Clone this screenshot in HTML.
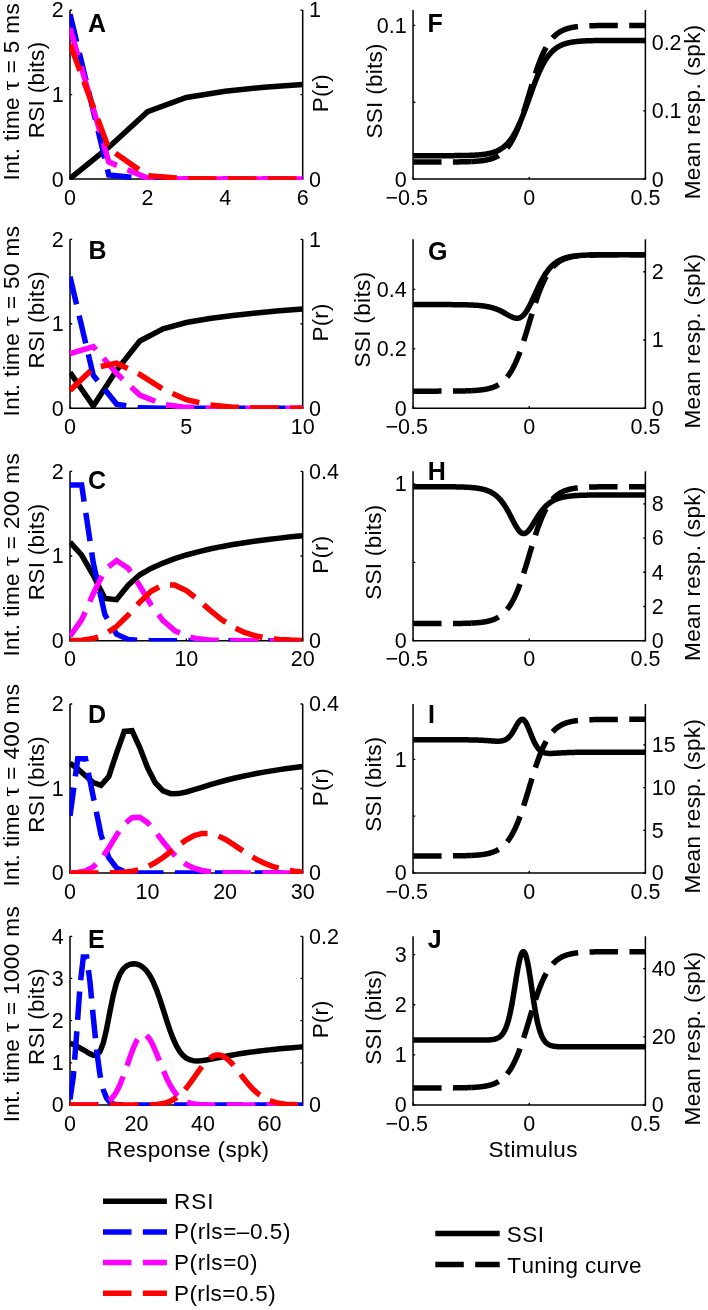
<!DOCTYPE html>
<html><head><meta charset="utf-8"><title>Figure</title>
<style>html,body{margin:0;padding:0;background:#fff;overflow:hidden} svg{display:block;will-change:transform} text{font-family:"Liberation Sans",sans-serif;font-kerning:none}</style>
</head><body>
<svg width="708" height="1310" viewBox="0 0 708 1310">
<rect width="708" height="1310" fill="#fff"/>
<defs><clipPath id="cl0"><rect x="69.40" y="2.05" width="233.90" height="177.95"/></clipPath><clipPath id="cl1"><rect x="69.40" y="231.35" width="233.90" height="177.75"/></clipPath><clipPath id="cl2"><rect x="69.40" y="463.30" width="233.90" height="178.30"/></clipPath><clipPath id="cl3"><rect x="69.40" y="696.00" width="233.90" height="177.90"/></clipPath><clipPath id="cl4"><rect x="69.40" y="928.30" width="233.90" height="177.60"/></clipPath><clipPath id="cr0"><rect x="412.45" y="2.05" width="233.55" height="177.95"/></clipPath><clipPath id="cr1"><rect x="412.45" y="231.35" width="233.55" height="177.75"/></clipPath><clipPath id="cr2"><rect x="412.45" y="463.30" width="233.55" height="178.30"/></clipPath><clipPath id="cr3"><rect x="412.45" y="696.00" width="233.55" height="177.90"/></clipPath><clipPath id="cr4"><rect x="412.45" y="928.30" width="233.55" height="177.60"/></clipPath></defs>
<g fill="none" stroke-linejoin="miter" stroke-miterlimit="10" stroke-linecap="butt">
<path d="M70.0,10.05 L70.0,179.1 L302.7,179.1 L302.7,10.05" stroke="#000" stroke-width="1.5" fill="none"/>
<path d="M70.00,179.1 V176.90 M147.57,179.1 V176.90 M225.13,179.1 V176.90 M302.70,179.1 V176.90 M70.0,179.10 H72.20 M70.0,94.58 H72.20 M70.0,10.05 H72.20 M302.7,179.10 H300.50 M302.7,94.58 H300.50 M302.7,10.05 H300.50" stroke="#000" stroke-width="1.3"/>
<path d="M70.00,178.60 L108.78,147.19 L147.57,111.64 L186.35,97.50 L225.13,91.19 L263.92,87.31 L302.70,84.43" stroke="#000" stroke-width="5.5" clip-path="url(#cl0)"/>
<path d="M70.00,14.22 L108.78,174.98 L147.57,179.05 L186.35,179.10 L225.13,179.10 L263.92,179.10 L302.70,179.10" stroke="#0000ff" stroke-width="5.5" stroke-dasharray="28.5 11.4" clip-path="url(#cl0)"/>
<path d="M70.00,28.13 L108.78,162.02 L147.57,178.13 L186.35,179.06 L225.13,179.10 L263.92,179.10 L302.70,179.10" stroke="#ff00ff" stroke-width="5.5" stroke-dasharray="28.5 11.4" clip-path="url(#cl0)"/>
<path d="M70.00,44.11 L108.78,148.73 L147.57,175.68 L186.35,178.84 L225.13,179.09 L263.92,179.10 L302.70,179.10" stroke="#ff0000" stroke-width="5.5" stroke-dasharray="28.5 11.4" clip-path="url(#cl0)"/>
<path d="M70.0,239.35 L70.0,408.2 L302.7,408.2 L302.7,239.35" stroke="#000" stroke-width="1.5" fill="none"/>
<path d="M70.00,408.2 V406.00 M186.35,408.2 V406.00 M302.70,408.2 V406.00 M70.0,408.20 H72.20 M70.0,323.77 H72.20 M70.0,239.35 H72.20 M302.7,408.20 H300.50 M302.7,323.77 H300.50 M302.7,239.35 H300.50" stroke="#000" stroke-width="1.3"/>
<path d="M70.00,372.29 L93.27,406.03 L116.54,370.27 L139.81,341.02 L163.08,328.73 L186.35,322.55 L209.62,318.50 L232.89,315.41 L256.16,312.90 L279.43,310.77 L302.70,308.92" stroke="#000" stroke-width="5.5" clip-path="url(#cl1)"/>
<path d="M70.00,276.70 L93.27,375.32 L116.54,404.09 L139.81,407.86 L163.08,408.18 L186.35,408.20 L209.62,408.20 L232.89,408.20 L256.16,408.20 L279.43,408.20 L302.70,408.20" stroke="#0000ff" stroke-width="5.5" stroke-dasharray="28.5 11.4" clip-path="url(#cl1)"/>
<path d="M70.00,353.72 L93.27,346.57 L116.54,373.34 L139.81,395.06 L163.08,404.48 L186.35,407.36 L209.62,408.04 L232.89,408.17 L256.16,408.20 L279.43,408.20 L302.70,408.20" stroke="#ff00ff" stroke-width="5.5" stroke-dasharray="28.5 11.4" clip-path="url(#cl1)"/>
<path d="M70.00,390.40 L93.27,368.16 L116.54,363.15 L139.81,374.41 L163.08,389.20 L186.35,399.65 L209.62,404.99 L232.89,407.17 L256.16,407.91 L279.43,408.13 L302.70,408.18" stroke="#ff0000" stroke-width="5.5" stroke-dasharray="28.5 11.4" clip-path="url(#cl1)"/>
<path d="M70.0,471.3 L70.0,640.7 L302.7,640.7 L302.7,471.3" stroke="#000" stroke-width="1.5" fill="none"/>
<path d="M70.00,640.7 V638.50 M186.35,640.7 V638.50 M302.70,640.7 V638.50 M70.0,640.70 H72.20 M70.0,556.00 H72.20 M70.0,471.30 H72.20 M302.7,640.70 H300.50 M302.7,556.00 H300.50 M302.7,471.30 H300.50" stroke="#000" stroke-width="1.3"/>
<path d="M70.00,542.20 L81.64,555.02 L93.27,575.31 L104.91,598.38 L116.54,599.71 L128.18,585.19 L139.81,574.82 L151.44,568.22 L163.08,563.06 L174.71,558.70 L186.35,554.98 L197.98,551.80 L209.62,549.06 L221.25,546.67 L232.89,544.57 L244.53,542.70 L256.16,541.02 L267.79,539.50 L279.43,538.11 L291.06,536.84 L302.70,535.65" stroke="#000" stroke-width="5.5" clip-path="url(#cl2)"/>
<path d="M70.00,484.92 L81.64,484.90 L93.27,562.79 L104.91,614.73 L116.54,634.21 L128.18,639.40 L139.81,640.48 L151.44,640.67 L163.08,640.70 L174.71,640.70 L186.35,640.70 L197.98,640.70 L209.62,640.70 L221.25,640.70 L232.89,640.70 L244.53,640.70 L256.16,640.70 L267.79,640.70 L279.43,640.70 L291.06,640.70 L302.70,640.70" stroke="#0000ff" stroke-width="5.5" stroke-dasharray="28.5 11.4" clip-path="url(#cl2)"/>
<path d="M70.00,636.11 L81.64,619.94 L93.27,593.72 L104.91,569.84 L116.54,560.54 L128.18,568.16 L139.81,585.99 L151.44,605.34 L163.08,620.70 L174.71,630.64 L186.35,636.15 L197.98,638.83 L209.62,639.99 L221.25,640.45 L232.89,640.62 L244.53,640.68 L256.16,640.69 L267.79,640.70 L279.43,640.70 L291.06,640.70 L302.70,640.70" stroke="#ff00ff" stroke-width="5.5" stroke-dasharray="28.5 11.4" clip-path="url(#cl2)"/>
<path d="M70.00,640.65 L81.64,640.23 L93.27,638.58 L104.91,634.35 L116.54,626.41 L128.18,614.98 L139.81,602.12 L151.44,591.10 L163.08,584.90 L174.71,584.90 L186.35,590.48 L197.98,599.61 L209.62,609.88 L221.25,619.37 L232.89,626.99 L244.53,632.47 L256.16,636.07 L267.79,638.25 L279.43,639.47 L291.06,640.12 L302.70,640.44" stroke="#ff0000" stroke-width="5.5" stroke-dasharray="28.5 11.4" clip-path="url(#cl2)"/>
<path d="M70.0,704.0 L70.0,873.0 L302.7,873.0 L302.7,704.0" stroke="#000" stroke-width="1.5" fill="none"/>
<path d="M70.00,873.0 V870.80 M147.57,873.0 V870.80 M225.13,873.0 V870.80 M302.70,873.0 V870.80 M70.0,873.00 H72.20 M70.0,788.50 H72.20 M70.0,704.00 H72.20 M302.7,873.00 H300.50 M302.7,788.50 H300.50 M302.7,704.00 H300.50" stroke="#000" stroke-width="1.3"/>
<path d="M70.00,763.14 L77.76,768.97 L85.51,775.76 L93.27,782.50 L101.03,785.33 L108.78,776.54 L116.54,753.09 L124.30,731.43 L132.05,730.63 L139.81,747.49 L147.57,767.83 L155.32,782.78 L163.08,790.80 L170.84,793.69 L178.59,793.59 L186.35,791.98 L194.11,789.73 L201.86,787.29 L209.62,784.89 L217.38,782.61 L225.13,780.49 L232.89,778.54 L240.65,776.74 L248.40,775.09 L256.16,773.57 L263.92,772.16 L271.67,770.85 L279.43,769.64 L287.19,768.50 L294.94,767.43 L302.70,766.43" stroke="#000" stroke-width="5.5" clip-path="url(#cl3)"/>
<path d="M70.00,815.83 L77.76,758.65 L85.51,758.64 L93.27,796.75 L101.03,834.87 L108.78,857.75 L116.54,867.92 L124.30,871.55 L132.05,872.64 L139.81,872.92 L147.57,872.98 L155.32,873.00 L163.08,873.00 L170.84,873.00 L178.59,873.00 L186.35,873.00 L194.11,873.00 L201.86,873.00 L209.62,873.00 L217.38,873.00 L225.13,873.00 L232.89,873.00 L240.65,873.00 L248.40,873.00 L256.16,873.00 L263.92,873.00 L271.67,873.00 L279.43,873.00 L287.19,873.00 L294.94,873.00 L302.70,873.00" stroke="#0000ff" stroke-width="5.5" stroke-dasharray="28.5 11.4" clip-path="url(#cl3)"/>
<path d="M70.00,872.95 L77.76,872.55 L85.51,870.97 L93.27,866.87 L101.03,859.14 L108.78,847.91 L116.54,835.15 L124.30,824.07 L132.05,817.65 L139.81,817.34 L147.57,822.63 L155.32,831.56 L163.08,841.75 L170.84,851.24 L178.59,858.94 L186.35,864.51 L194.11,868.20 L201.86,870.44 L209.62,871.72 L217.38,872.39 L225.13,872.72 L232.89,872.88 L240.65,872.95 L248.40,872.98 L256.16,872.99 L263.92,873.00 L271.67,873.00 L279.43,873.00 L287.19,873.00 L294.94,873.00 L302.70,873.00" stroke="#ff00ff" stroke-width="5.5" stroke-dasharray="28.5 11.4" clip-path="url(#cl3)"/>
<path d="M70.00,873.00 L77.76,873.00 L85.51,873.00 L93.27,872.99 L101.03,872.97 L108.78,872.90 L116.54,872.70 L124.30,872.22 L132.05,871.24 L139.81,869.48 L147.57,866.67 L155.32,862.64 L163.08,857.46 L170.84,851.48 L178.59,845.33 L186.35,839.80 L194.11,835.65 L201.86,833.45 L209.62,833.46 L217.38,835.54 L225.13,839.28 L232.89,844.10 L240.65,849.36 L248.40,854.50 L256.16,859.12 L263.92,863.01 L271.67,866.08 L279.43,868.39 L287.19,870.04 L294.94,871.16 L302.70,871.90" stroke="#ff0000" stroke-width="5.5" stroke-dasharray="28.5 11.4" clip-path="url(#cl3)"/>
<path d="M70.0,936.3 L70.0,1105.0 L302.7,1105.0 L302.7,936.3" stroke="#000" stroke-width="1.5" fill="none"/>
<path d="M70.00,1105.0 V1102.80 M136.49,1105.0 V1102.80 M202.97,1105.0 V1102.80 M269.46,1105.0 V1102.80 M70.0,1105.00 H72.20 M70.0,1062.83 H72.20 M70.0,1020.65 H72.20 M70.0,978.47 H72.20 M70.0,936.30 H72.20 M302.7,1105.00 H300.50 M302.7,1062.83 H300.50 M302.7,1020.65 H300.50 M302.7,978.47 H300.50 M302.7,936.30 H300.50" stroke="#000" stroke-width="1.3"/>
<path d="M70.00,1043.20 L73.32,1044.57 L76.65,1046.10 L79.97,1047.83 L83.30,1049.74 L86.62,1051.78 L89.95,1053.75 L93.27,1055.19 L96.59,1055.09 L99.92,1051.76 L103.24,1043.27 L106.57,1029.12 L109.89,1011.73 L113.22,995.28 L116.54,982.63 L119.86,974.17 L123.19,968.97 L126.51,965.95 L129.84,964.34 L133.16,963.75 L136.49,964.03 L139.81,965.19 L143.13,967.34 L146.46,970.67 L149.78,975.40 L153.11,981.69 L156.43,989.58 L159.76,998.88 L163.08,1009.13 L166.40,1019.64 L169.73,1029.65 L173.05,1038.51 L176.38,1045.80 L179.70,1051.40 L183.03,1055.43 L186.35,1058.13 L189.67,1059.77 L193.00,1060.62 L196.32,1060.92 L199.65,1060.84 L202.97,1060.50 L206.30,1060.00 L209.62,1059.41 L212.94,1058.77 L216.27,1058.10 L219.59,1057.44 L222.92,1056.78 L226.24,1056.14 L229.57,1055.52 L232.89,1054.93 L236.21,1054.36 L239.54,1053.82 L242.86,1053.30 L246.19,1052.80 L249.51,1052.33 L252.84,1051.88 L256.16,1051.44 L259.48,1051.03 L262.81,1050.63 L266.13,1050.25 L269.46,1049.88 L272.78,1049.53 L276.11,1049.19 L279.43,1048.86 L282.75,1048.55 L286.08,1048.24 L289.40,1047.95 L292.73,1047.66 L296.05,1047.38 L299.38,1047.12 L302.70,1046.86" stroke="#000" stroke-width="5.5" clip-path="url(#cl4)"/>
<path d="M70.00,1099.32 L73.32,1076.59 L76.65,1033.98 L79.97,986.62 L83.30,957.01 L86.62,956.99 L89.95,981.65 L93.27,1016.88 L96.59,1049.92 L99.92,1074.40 L103.24,1089.70 L106.57,1098.04 L109.89,1102.10 L113.22,1103.89 L116.54,1104.60 L119.86,1104.87 L123.19,1104.96 L126.51,1104.99 L129.84,1105.00 L133.16,1105.00 L136.49,1105.00 L139.81,1105.00 L143.13,1105.00 L146.46,1105.00 L149.78,1105.00 L153.11,1105.00 L156.43,1105.00 L159.76,1105.00 L163.08,1105.00 L166.40,1105.00 L169.73,1105.00 L173.05,1105.00 L176.38,1105.00 L179.70,1105.00 L183.03,1105.00 L186.35,1105.00 L189.67,1105.00 L193.00,1105.00 L196.32,1105.00 L199.65,1105.00 L202.97,1105.00 L206.30,1105.00 L209.62,1105.00 L212.94,1105.00 L216.27,1105.00 L219.59,1105.00 L222.92,1105.00 L226.24,1105.00 L229.57,1105.00 L232.89,1105.00 L236.21,1105.00 L239.54,1105.00 L242.86,1105.00 L246.19,1105.00 L249.51,1105.00 L252.84,1105.00 L256.16,1105.00 L259.48,1105.00 L262.81,1105.00 L266.13,1105.00 L269.46,1105.00 L272.78,1105.00 L276.11,1105.00 L279.43,1105.00 L282.75,1105.00 L286.08,1105.00 L289.40,1105.00 L292.73,1105.00 L296.05,1105.00 L299.38,1105.00 L302.70,1105.00" stroke="#0000ff" stroke-width="5.5" stroke-dasharray="28.5 11.4" clip-path="url(#cl4)"/>
<path d="M70.00,1105.00 L73.32,1105.00 L76.65,1105.00 L79.97,1105.00 L83.30,1105.00 L86.62,1104.99 L89.95,1104.98 L93.27,1104.92 L96.59,1104.79 L99.92,1104.46 L103.24,1103.78 L106.57,1102.49 L109.89,1100.27 L113.22,1096.77 L116.54,1091.69 L119.86,1084.93 L123.19,1076.62 L126.51,1067.23 L129.84,1057.53 L133.16,1048.47 L136.49,1041.05 L139.81,1036.10 L143.13,1034.15 L146.46,1035.30 L149.78,1039.30 L153.11,1045.54 L156.43,1053.26 L159.76,1061.64 L163.08,1069.97 L166.40,1077.67 L169.73,1084.39 L173.05,1089.96 L176.38,1094.36 L179.70,1097.71 L183.03,1100.15 L186.35,1101.86 L189.67,1103.03 L193.00,1103.79 L196.32,1104.28 L199.65,1104.58 L202.97,1104.76 L206.30,1104.87 L209.62,1104.93 L212.94,1104.96 L216.27,1104.98 L219.59,1104.99 L222.92,1105.00 L226.24,1105.00 L229.57,1105.00 L232.89,1105.00 L236.21,1105.00 L239.54,1105.00 L242.86,1105.00 L246.19,1105.00 L249.51,1105.00 L252.84,1105.00 L256.16,1105.00 L259.48,1105.00 L262.81,1105.00 L266.13,1105.00 L269.46,1105.00 L272.78,1105.00 L276.11,1105.00 L279.43,1105.00 L282.75,1105.00 L286.08,1105.00 L289.40,1105.00 L292.73,1105.00 L296.05,1105.00 L299.38,1105.00 L302.70,1105.00" stroke="#ff00ff" stroke-width="5.5" stroke-dasharray="28.5 11.4" clip-path="url(#cl4)"/>
<path d="M70.00,1105.00 L73.32,1105.00 L76.65,1105.00 L79.97,1105.00 L83.30,1105.00 L86.62,1105.00 L89.95,1105.00 L93.27,1105.00 L96.59,1105.00 L99.92,1105.00 L103.24,1105.00 L106.57,1105.00 L109.89,1105.00 L113.22,1105.00 L116.54,1105.00 L119.86,1105.00 L123.19,1105.00 L126.51,1105.00 L129.84,1105.00 L133.16,1104.99 L136.49,1104.99 L139.81,1104.98 L143.13,1104.95 L146.46,1104.90 L149.78,1104.81 L153.11,1104.67 L156.43,1104.42 L159.76,1104.04 L163.08,1103.46 L166.40,1102.60 L169.73,1101.41 L173.05,1099.78 L176.38,1097.66 L179.70,1095.00 L183.03,1091.76 L186.35,1087.98 L189.67,1083.72 L193.00,1079.12 L196.32,1074.35 L199.65,1069.64 L202.97,1065.22 L206.30,1061.33 L209.62,1058.22 L212.94,1056.04 L216.27,1054.93 L219.59,1054.93 L222.92,1056.02 L226.24,1058.10 L229.57,1061.03 L232.89,1064.62 L236.21,1068.66 L239.54,1072.94 L242.86,1077.25 L246.19,1081.44 L249.51,1085.37 L252.84,1088.94 L256.16,1092.09 L259.48,1094.81 L262.81,1097.09 L266.13,1098.97 L269.46,1100.48 L272.78,1101.66 L276.11,1102.58 L279.43,1103.27 L282.75,1103.78 L286.08,1104.16 L289.40,1104.43 L292.73,1104.61 L296.05,1104.74 L299.38,1104.83 L302.70,1104.89" stroke="#ff0000" stroke-width="5.5" stroke-dasharray="28.5 11.4" clip-path="url(#cl4)"/>
<path d="M413.05,10.05 L413.05,179.1 L645.4,179.1 L645.4,10.05" stroke="#000" stroke-width="1.5" fill="none"/>
<path d="M413.05,179.1 V176.90 M529.23,179.1 V176.90 M645.40,179.1 V176.90 M413.05,179.10 H415.25 M413.05,102.26 H415.25 M413.05,25.42 H415.25 M645.4,179.10 H643.20 M645.4,110.80 H643.20 M645.4,42.49 H643.20" stroke="#000" stroke-width="1.3"/>
<path d="M413.05,155.70 L413.51,155.70 L413.98,155.70 L414.44,155.70 L414.91,155.70 L415.37,155.70 L415.84,155.70 L416.30,155.70 L416.77,155.70 L417.23,155.70 L417.70,155.70 L418.16,155.70 L418.63,155.70 L419.09,155.70 L419.56,155.70 L420.02,155.70 L420.49,155.70 L420.95,155.70 L421.41,155.70 L421.88,155.69 L422.34,155.69 L422.81,155.69 L423.27,155.69 L423.74,155.69 L424.20,155.69 L424.67,155.69 L425.13,155.69 L425.60,155.69 L426.06,155.69 L426.53,155.69 L426.99,155.69 L427.46,155.69 L427.92,155.69 L428.39,155.69 L428.85,155.69 L429.31,155.69 L429.78,155.69 L430.24,155.69 L430.71,155.69 L431.17,155.69 L431.64,155.69 L432.10,155.69 L432.57,155.69 L433.03,155.69 L433.50,155.69 L433.96,155.69 L434.43,155.69 L434.89,155.69 L435.36,155.69 L435.82,155.69 L436.29,155.69 L436.75,155.68 L437.21,155.68 L437.68,155.68 L438.14,155.68 L438.61,155.68 L439.07,155.68 L439.54,155.68 L440.00,155.68 L440.47,155.68 L440.93,155.68 L441.40,155.68 L441.86,155.68 L442.33,155.67 L442.79,155.67 L443.26,155.67 L443.72,155.67 L444.18,155.67 L444.65,155.67 L445.11,155.67 L445.58,155.67 L446.04,155.66 L446.51,155.66 L446.97,155.66 L447.44,155.66 L447.90,155.66 L448.37,155.66 L448.83,155.65 L449.30,155.65 L449.76,155.65 L450.23,155.65 L450.69,155.65 L451.16,155.64 L451.62,155.64 L452.08,155.64 L452.55,155.63 L453.01,155.63 L453.48,155.63 L453.94,155.63 L454.41,155.62 L454.87,155.62 L455.34,155.61 L455.80,155.61 L456.27,155.61 L456.73,155.60 L457.20,155.60 L457.66,155.59 L458.13,155.59 L458.59,155.58 L459.06,155.58 L459.52,155.57 L459.98,155.57 L460.45,155.56 L460.91,155.55 L461.38,155.55 L461.84,155.54 L462.31,155.53 L462.77,155.53 L463.24,155.52 L463.70,155.51 L464.17,155.50 L464.63,155.49 L465.10,155.48 L465.56,155.47 L466.03,155.46 L466.49,155.45 L466.96,155.44 L467.42,155.43 L467.88,155.41 L468.35,155.40 L468.81,155.39 L469.28,155.37 L469.74,155.36 L470.21,155.34 L470.67,155.33 L471.14,155.31 L471.60,155.29 L472.07,155.27 L472.53,155.25 L473.00,155.23 L473.46,155.21 L473.93,155.19 L474.39,155.16 L474.86,155.14 L475.32,155.11 L475.78,155.09 L476.25,155.06 L476.71,155.03 L477.18,155.00 L477.64,154.97 L478.11,154.93 L478.57,154.90 L479.04,154.86 L479.50,154.82 L479.97,154.78 L480.43,154.74 L480.90,154.69 L481.36,154.65 L481.83,154.60 L482.29,154.55 L482.75,154.49 L483.22,154.44 L483.68,154.38 L484.15,154.32 L484.61,154.26 L485.08,154.19 L485.54,154.12 L486.01,154.05 L486.47,153.97 L486.94,153.90 L487.40,153.81 L487.87,153.73 L488.33,153.64 L488.80,153.54 L489.26,153.44 L489.73,153.34 L490.19,153.23 L490.65,153.12 L491.12,153.01 L491.58,152.88 L492.05,152.76 L492.51,152.62 L492.98,152.48 L493.44,152.34 L493.91,152.19 L494.37,152.03 L494.84,151.86 L495.30,151.69 L495.77,151.51 L496.23,151.33 L496.70,151.13 L497.16,150.93 L497.63,150.71 L498.09,150.49 L498.55,150.26 L499.02,150.02 L499.48,149.77 L499.95,149.51 L500.41,149.24 L500.88,148.96 L501.34,148.66 L501.81,148.35 L502.27,148.04 L502.74,147.70 L503.20,147.36 L503.67,147.00 L504.13,146.63 L504.60,146.24 L505.06,145.84 L505.53,145.42 L505.99,144.99 L506.45,144.54 L506.92,144.07 L507.38,143.58 L507.85,143.08 L508.31,142.56 L508.78,142.02 L509.24,141.47 L509.71,140.89 L510.17,140.29 L510.64,139.67 L511.10,139.04 L511.57,138.38 L512.03,137.70 L512.50,137.00 L512.96,136.27 L513.43,135.53 L513.89,134.76 L514.35,133.97 L514.82,133.15 L515.28,132.32 L515.75,131.46 L516.21,130.58 L516.68,129.67 L517.14,128.74 L517.61,127.79 L518.07,126.82 L518.54,125.82 L519.00,124.80 L519.47,123.76 L519.93,122.70 L520.40,121.62 L520.86,120.52 L521.33,119.40 L521.79,118.26 L522.25,117.10 L522.72,115.92 L523.18,114.73 L523.65,113.52 L524.11,112.29 L524.58,111.05 L525.04,109.80 L525.51,108.54 L525.97,107.27 L526.44,105.98 L526.90,104.69 L527.37,103.40 L527.83,102.09 L528.30,100.79 L528.76,99.48 L529.23,98.17 L529.69,96.85 L530.15,95.54 L530.62,94.24 L531.08,92.93 L531.55,91.63 L532.01,90.34 L532.48,89.06 L532.94,87.78 L533.41,86.52 L533.87,85.27 L534.34,84.03 L534.80,82.80 L535.27,81.59 L535.73,80.39 L536.20,79.21 L536.66,78.05 L537.12,76.90 L537.59,75.78 L538.05,74.67 L538.52,73.59 L538.98,72.52 L539.45,71.48 L539.91,70.46 L540.38,69.46 L540.84,68.48 L541.31,67.52 L541.77,66.59 L542.24,65.68 L542.70,64.80 L543.17,63.93 L543.63,63.09 L544.10,62.28 L544.56,61.48 L545.02,60.71 L545.49,59.96 L545.95,59.23 L546.42,58.53 L546.88,57.84 L547.35,57.18 L547.81,56.54 L548.28,55.92 L548.74,55.32 L549.21,54.74 L549.67,54.18 L550.14,53.63 L550.60,53.11 L551.07,52.61 L551.53,52.12 L552.00,51.65 L552.46,51.19 L552.92,50.76 L553.39,50.34 L553.85,49.93 L554.32,49.54 L554.78,49.17 L555.25,48.81 L555.71,48.46 L556.18,48.12 L556.64,47.80 L557.11,47.49 L557.57,47.20 L558.04,46.91 L558.50,46.64 L558.97,46.38 L559.43,46.12 L559.90,45.88 L560.36,45.65 L560.82,45.43 L561.29,45.21 L561.75,45.01 L562.22,44.81 L562.68,44.62 L563.15,44.44 L563.61,44.27 L564.08,44.10 L564.54,43.94 L565.01,43.79 L565.47,43.64 L565.94,43.50 L566.40,43.37 L566.87,43.24 L567.33,43.12 L567.80,43.00 L568.26,42.89 L568.72,42.78 L569.19,42.68 L569.65,42.58 L570.12,42.48 L570.58,42.39 L571.05,42.30 L571.51,42.22 L571.98,42.14 L572.44,42.07 L572.91,41.99 L573.37,41.92 L573.84,41.86 L574.30,41.79 L574.77,41.73 L575.23,41.67 L575.69,41.62 L576.16,41.56 L576.62,41.51 L577.09,41.46 L577.55,41.42 L578.02,41.37 L578.48,41.33 L578.95,41.29 L579.41,41.25 L579.88,41.21 L580.34,41.18 L580.81,41.14 L581.27,41.11 L581.74,41.08 L582.20,41.05 L582.67,41.02 L583.13,40.99 L583.59,40.97 L584.06,40.94 L584.52,40.92 L584.99,40.90 L585.45,40.87 L585.92,40.85 L586.38,40.83 L586.85,40.81 L587.31,40.80 L587.78,40.78 L588.24,40.76 L588.71,40.75 L589.17,40.73 L589.64,40.72 L590.10,40.70 L590.57,40.69 L591.03,40.68 L591.49,40.66 L591.96,40.65 L592.42,40.64 L592.89,40.63 L593.35,40.62 L593.82,40.61 L594.28,40.60 L594.75,40.59 L595.21,40.59 L595.68,40.58 L596.14,40.57 L596.61,40.56 L597.07,40.56 L597.54,40.55 L598.00,40.54 L598.47,40.54 L598.93,40.53 L599.39,40.52 L599.86,40.52 L600.32,40.51 L600.79,40.51 L601.25,40.50 L601.72,40.50 L602.18,40.50 L602.65,40.49 L603.11,40.49 L603.58,40.48 L604.04,40.48 L604.51,40.48 L604.97,40.47 L605.44,40.47 L605.90,40.47 L606.37,40.46 L606.83,40.46 L607.29,40.46 L607.76,40.46 L608.22,40.45 L608.69,40.45 L609.15,40.45 L609.62,40.45 L610.08,40.45 L610.55,40.44 L611.01,40.44 L611.48,40.44 L611.94,40.44 L612.41,40.44 L612.87,40.44 L613.34,40.43 L613.80,40.43 L614.27,40.43 L614.73,40.43 L615.19,40.43 L615.66,40.43 L616.12,40.43 L616.59,40.43 L617.05,40.43 L617.52,40.42 L617.98,40.42 L618.45,40.42 L618.91,40.42 L619.38,40.42 L619.84,40.42 L620.31,40.42 L620.77,40.42 L621.24,40.42 L621.70,40.42 L622.16,40.42 L622.63,40.42 L623.09,40.42 L623.56,40.42 L624.02,40.41 L624.49,40.41 L624.95,40.41 L625.42,40.41 L625.88,40.41 L626.35,40.41 L626.81,40.41 L627.28,40.41 L627.74,40.41 L628.21,40.41 L628.67,40.41 L629.14,40.41 L629.60,40.41 L630.06,40.41 L630.53,40.41 L630.99,40.41 L631.46,40.41 L631.92,40.41 L632.39,40.41 L632.85,40.41 L633.32,40.41 L633.78,40.41 L634.25,40.41 L634.71,40.41 L635.18,40.41 L635.64,40.41 L636.11,40.41 L636.57,40.41 L637.04,40.41 L637.50,40.41 L637.96,40.41 L638.43,40.41 L638.89,40.41 L639.36,40.41 L639.82,40.41 L640.29,40.41 L640.75,40.41 L641.22,40.41 L641.68,40.41 L642.15,40.41 L642.61,40.41 L643.08,40.41 L643.54,40.41 L644.01,40.41 L644.47,40.41 L644.94,40.41 L645.40,40.41" stroke="#000" stroke-width="5.5" clip-path="url(#cr0)"/>
<path d="M413.05,162.02 L413.51,162.02 L413.98,162.02 L414.44,162.02 L414.91,162.02 L415.37,162.02 L415.84,162.02 L416.30,162.02 L416.77,162.02 L417.23,162.02 L417.70,162.02 L418.16,162.02 L418.63,162.02 L419.09,162.02 L419.56,162.02 L420.02,162.02 L420.49,162.02 L420.95,162.02 L421.41,162.02 L421.88,162.02 L422.34,162.02 L422.81,162.02 L423.27,162.02 L423.74,162.02 L424.20,162.02 L424.67,162.02 L425.13,162.02 L425.60,162.02 L426.06,162.02 L426.53,162.02 L426.99,162.02 L427.46,162.02 L427.92,162.02 L428.39,162.02 L428.85,162.02 L429.31,162.02 L429.78,162.02 L430.24,162.02 L430.71,162.02 L431.17,162.01 L431.64,162.01 L432.10,162.01 L432.57,162.01 L433.03,162.01 L433.50,162.01 L433.96,162.01 L434.43,162.01 L434.89,162.01 L435.36,162.01 L435.82,162.01 L436.29,162.01 L436.75,162.01 L437.21,162.01 L437.68,162.01 L438.14,162.01 L438.61,162.00 L439.07,162.00 L439.54,162.00 L440.00,162.00 L440.47,162.00 L440.93,162.00 L441.40,162.00 L441.86,162.00 L442.33,162.00 L442.79,161.99 L443.26,161.99 L443.72,161.99 L444.18,161.99 L444.65,161.99 L445.11,161.99 L445.58,161.99 L446.04,161.98 L446.51,161.98 L446.97,161.98 L447.44,161.98 L447.90,161.98 L448.37,161.97 L448.83,161.97 L449.30,161.97 L449.76,161.97 L450.23,161.96 L450.69,161.96 L451.16,161.96 L451.62,161.96 L452.08,161.95 L452.55,161.95 L453.01,161.95 L453.48,161.94 L453.94,161.94 L454.41,161.93 L454.87,161.93 L455.34,161.92 L455.80,161.92 L456.27,161.92 L456.73,161.91 L457.20,161.91 L457.66,161.90 L458.13,161.89 L458.59,161.89 L459.06,161.88 L459.52,161.87 L459.98,161.87 L460.45,161.86 L460.91,161.85 L461.38,161.85 L461.84,161.84 L462.31,161.83 L462.77,161.82 L463.24,161.81 L463.70,161.80 L464.17,161.79 L464.63,161.78 L465.10,161.77 L465.56,161.75 L466.03,161.74 L466.49,161.73 L466.96,161.72 L467.42,161.70 L467.88,161.69 L468.35,161.67 L468.81,161.65 L469.28,161.64 L469.74,161.62 L470.21,161.60 L470.67,161.58 L471.14,161.56" stroke="#000" stroke-width="5.5" stroke-dasharray="28.5 11.4" clip-path="url(#cr0)"/>
<path d="M471.14,161.56 L471.60,161.54 L472.07,161.52 L472.53,161.49 L473.00,161.47 L473.46,161.44 L473.93,161.42 L474.39,161.39 L474.86,161.36 L475.32,161.33 L475.78,161.29 L476.25,161.26 L476.71,161.23 L477.18,161.19 L477.64,161.15 L478.11,161.11 L478.57,161.07 L479.04,161.02 L479.50,160.98 L479.97,160.93 L480.43,160.88 L480.90,160.83 L481.36,160.77 L481.83,160.71 L482.29,160.65 L482.75,160.59 L483.22,160.52 L483.68,160.45 L484.15,160.38 L484.61,160.31 L485.08,160.23 L485.54,160.15 L486.01,160.06 L486.47,159.97 L486.94,159.88 L487.40,159.78 L487.87,159.67 L488.33,159.57 L488.80,159.45 L489.26,159.34 L489.73,159.22 L490.19,159.09 L490.65,158.95 L491.12,158.81 L491.58,158.67 L492.05,158.52 L492.51,158.36 L492.98,158.19 L493.44,158.02 L493.91,157.84 L494.37,157.65 L494.84,157.45 L495.30,157.25 L495.77,157.04 L496.23,156.81 L496.70,156.58 L497.16,156.34 L497.63,156.08 L498.09,155.82 L498.55,155.55 L499.02,155.26 L499.48,154.96 L499.95,154.65 L500.41,154.33 L500.88,153.99 L501.34,153.64 L501.81,153.27 L502.27,152.89 L502.74,152.50 L503.20,152.09 L503.67,151.66 L504.13,151.22 L504.60,150.76 L505.06,150.28 L505.53,149.78 L505.99,149.26 L506.45,148.73 L506.92,148.17 L507.38,147.60 L507.85,147.00 L508.31,146.38 L508.78,145.74 L509.24,145.08 L509.71,144.39 L510.17,143.68 L510.64,142.95 L511.10,142.19 L511.57,141.40 L512.03,140.60 L512.50,139.76 L512.96,138.90 L513.43,138.02 L513.89,137.10 L514.35,136.16 L514.82,135.20 L515.28,134.20 L515.75,133.18 L516.21,132.14 L516.68,131.06 L517.14,129.96 L517.61,128.83 L518.07,127.67 L518.54,126.49 L519.00,125.28 L519.47,124.05 L519.93,122.79 L520.40,121.51 L520.86,120.20 L521.33,118.87 L521.79,117.52 L522.25,116.14 L522.72,114.75 L523.18,113.33 L523.65,111.90 L524.11,110.45 L524.58,108.98 L525.04,107.50 L525.51,106.00 L525.97,104.50 L526.44,102.98 L526.90,101.45 L527.37,99.91 L527.83,98.37 L528.30,96.82 L528.76,95.27 L529.23,93.72 L529.69,92.17 L530.15,90.62 L530.62,89.07 L531.08,87.53 L531.55,85.99 L532.01,84.46 L532.48,82.94 L532.94,81.44 L533.41,79.94 L533.87,78.46 L534.34,76.99 L534.80,75.54 L535.27,74.11 L535.73,72.69 L536.20,71.30 L536.66,69.92 L537.12,68.57 L537.59,67.24 L538.05,65.93 L538.52,64.65 L538.98,63.39 L539.45,62.16 L539.91,60.95 L540.38,59.77 L540.84,58.61 L541.31,57.48 L541.77,56.38 L542.24,55.31 L542.70,54.26 L543.17,53.24 L543.63,52.24 L544.10,51.28 L544.56,50.34 L545.02,49.42 L545.49,48.54 L545.95,47.68 L546.42,46.84 L546.88,46.04 L547.35,45.25 L547.81,44.49 L548.28,43.76 L548.74,43.05 L549.21,42.36 L549.67,41.70 L550.14,41.06 L550.60,40.44 L551.07,39.84 L551.53,39.27 L552.00,38.71 L552.46,38.18 L552.92,37.66 L553.39,37.16 L553.85,36.68 L554.32,36.22 L554.78,35.78 L555.25,35.35 L555.71,34.94 L556.18,34.55 L556.64,34.17 L557.11,33.80 L557.57,33.45 L558.04,33.11 L558.50,32.79 L558.97,32.48 L559.43,32.18 L559.90,31.90 L560.36,31.62 L560.82,31.36 L561.29,31.10 L561.75,30.86 L562.22,30.63 L562.68,30.41 L563.15,30.19 L563.61,29.99 L564.08,29.79 L564.54,29.60 L565.01,29.42 L565.47,29.25 L565.94,29.08 L566.40,28.92 L566.87,28.77 L567.33,28.63 L567.80,28.49 L568.26,28.35 L568.72,28.23 L569.19,28.10 L569.65,27.99 L570.12,27.87 L570.58,27.77 L571.05,27.66 L571.51,27.57 L571.98,27.47 L572.44,27.38 L572.91,27.30 L573.37,27.21 L573.84,27.13 L574.30,27.06 L574.77,26.99 L575.23,26.92 L575.69,26.85 L576.16,26.79 L576.62,26.73 L577.09,26.67 L577.55,26.62 L578.02,26.56 L578.48,26.51 L578.95,26.46 L579.41,26.42 L579.88,26.37 L580.34,26.33 L580.81,26.29 L581.27,26.25 L581.74,26.22 L582.20,26.18 L582.67,26.15 L583.13,26.11 L583.59,26.08 L584.06,26.05 L584.52,26.03 L584.99,26.00 L585.45,25.97 L585.92,25.95 L586.38,25.92 L586.85,25.90 L587.31,25.88 L587.78,25.86 L588.24,25.84 L588.71,25.82 L589.17,25.80 L589.64,25.79 L590.10,25.77 L590.57,25.75 L591.03,25.74 L591.49,25.73 L591.96,25.71 L592.42,25.70 L592.89,25.69 L593.35,25.67 L593.82,25.66 L594.28,25.65 L594.75,25.64 L595.21,25.63 L595.68,25.62 L596.14,25.61 L596.61,25.60 L597.07,25.60 L597.54,25.59 L598.00,25.58 L598.47,25.57 L598.93,25.57 L599.39,25.56 L599.86,25.55 L600.32,25.55 L600.79,25.54 L601.25,25.54 L601.72,25.53 L602.18,25.53 L602.65,25.52 L603.11,25.52 L603.58,25.51 L604.04,25.51 L604.51,25.50 L604.97,25.50 L605.44,25.50 L605.90,25.49 L606.37,25.49 L606.83,25.49 L607.29,25.48 L607.76,25.48 L608.22,25.48 L608.69,25.47 L609.15,25.47 L609.62,25.47 L610.08,25.47 L610.55,25.46 L611.01,25.46 L611.48,25.46 L611.94,25.46 L612.41,25.46 L612.87,25.45 L613.34,25.45 L613.80,25.45 L614.27,25.45 L614.73,25.45 L615.19,25.45 L615.66,25.45 L616.12,25.44 L616.59,25.44 L617.05,25.44 L617.52,25.44 L617.98,25.44 L618.45,25.44 L618.91,25.44 L619.38,25.44 L619.84,25.44 L620.31,25.44 L620.77,25.43 L621.24,25.43 L621.70,25.43 L622.16,25.43 L622.63,25.43 L623.09,25.43 L623.56,25.43 L624.02,25.43 L624.49,25.43 L624.95,25.43 L625.42,25.43 L625.88,25.43 L626.35,25.43 L626.81,25.43 L627.28,25.43 L627.74,25.43 L628.21,25.43 L628.67,25.42 L629.14,25.42 L629.60,25.42 L630.06,25.42 L630.53,25.42 L630.99,25.42 L631.46,25.42 L631.92,25.42 L632.39,25.42 L632.85,25.42 L633.32,25.42 L633.78,25.42 L634.25,25.42 L634.71,25.42 L635.18,25.42 L635.64,25.42 L636.11,25.42 L636.57,25.42 L637.04,25.42 L637.50,25.42 L637.96,25.42 L638.43,25.42 L638.89,25.42 L639.36,25.42 L639.82,25.42 L640.29,25.42 L640.75,25.42 L641.22,25.42 L641.68,25.42 L642.15,25.42 L642.61,25.42 L643.08,25.42 L643.54,25.42 L644.01,25.42 L644.47,25.42 L644.94,25.42 L645.40,25.42" stroke="#000" stroke-width="5.5" stroke-dasharray="28.5 11.4" clip-path="url(#cr0)"/>
<path d="M413.05,239.35 L413.05,408.2 L645.4,408.2 L645.4,239.35" stroke="#000" stroke-width="1.5" fill="none"/>
<path d="M413.05,408.2 V406.00 M529.23,408.2 V406.00 M645.40,408.2 V406.00 M413.05,408.20 H415.25 M413.05,348.80 H415.25 M413.05,289.40 H415.25 M645.4,408.20 H643.20 M645.4,339.98 H643.20 M645.4,271.75 H643.20" stroke="#000" stroke-width="1.3"/>
<path d="M413.05,304.56 L413.51,304.56 L413.98,304.56 L414.44,304.56 L414.91,304.56 L415.37,304.56 L415.84,304.56 L416.30,304.56 L416.77,304.56 L417.23,304.56 L417.70,304.56 L418.16,304.56 L418.63,304.56 L419.09,304.56 L419.56,304.56 L420.02,304.56 L420.49,304.56 L420.95,304.56 L421.41,304.56 L421.88,304.56 L422.34,304.56 L422.81,304.56 L423.27,304.56 L423.74,304.56 L424.20,304.56 L424.67,304.56 L425.13,304.56 L425.60,304.56 L426.06,304.56 L426.53,304.56 L426.99,304.56 L427.46,304.56 L427.92,304.56 L428.39,304.56 L428.85,304.56 L429.31,304.56 L429.78,304.56 L430.24,304.56 L430.71,304.56 L431.17,304.57 L431.64,304.57 L432.10,304.57 L432.57,304.57 L433.03,304.57 L433.50,304.57 L433.96,304.57 L434.43,304.57 L434.89,304.57 L435.36,304.57 L435.82,304.57 L436.29,304.57 L436.75,304.57 L437.21,304.57 L437.68,304.57 L438.14,304.57 L438.61,304.57 L439.07,304.58 L439.54,304.58 L440.00,304.58 L440.47,304.58 L440.93,304.58 L441.40,304.58 L441.86,304.58 L442.33,304.58 L442.79,304.58 L443.26,304.59 L443.72,304.59 L444.18,304.59 L444.65,304.59 L445.11,304.59 L445.58,304.59 L446.04,304.59 L446.51,304.60 L446.97,304.60 L447.44,304.60 L447.90,304.60 L448.37,304.60 L448.83,304.61 L449.30,304.61 L449.76,304.61 L450.23,304.61 L450.69,304.62 L451.16,304.62 L451.62,304.62 L452.08,304.63 L452.55,304.63 L453.01,304.63 L453.48,304.64 L453.94,304.64 L454.41,304.64 L454.87,304.65 L455.34,304.65 L455.80,304.66 L456.27,304.66 L456.73,304.66 L457.20,304.67 L457.66,304.68 L458.13,304.68 L458.59,304.69 L459.06,304.69 L459.52,304.70 L459.98,304.71 L460.45,304.71 L460.91,304.72 L461.38,304.73 L461.84,304.73 L462.31,304.74 L462.77,304.75 L463.24,304.76 L463.70,304.77 L464.17,304.78 L464.63,304.79 L465.10,304.80 L465.56,304.81 L466.03,304.82 L466.49,304.84 L466.96,304.85 L467.42,304.86 L467.88,304.88 L468.35,304.89 L468.81,304.91 L469.28,304.92 L469.74,304.94 L470.21,304.96 L470.67,304.98 L471.14,305.00 L471.60,305.02 L472.07,305.04 L472.53,305.06 L473.00,305.08 L473.46,305.11 L473.93,305.13 L474.39,305.16 L474.86,305.19 L475.32,305.21 L475.78,305.24 L476.25,305.28 L476.71,305.31 L477.18,305.34 L477.64,305.38 L478.11,305.41 L478.57,305.45 L479.04,305.49 L479.50,305.54 L479.97,305.58 L480.43,305.63 L480.90,305.67 L481.36,305.73 L481.83,305.78 L482.29,305.83 L482.75,305.89 L483.22,305.95 L483.68,306.01 L484.15,306.07 L484.61,306.14 L485.08,306.21 L485.54,306.28 L486.01,306.36 L486.47,306.44 L486.94,306.52 L487.40,306.61 L487.87,306.70 L488.33,306.79 L488.80,306.89 L489.26,306.99 L489.73,307.09 L490.19,307.20 L490.65,307.31 L491.12,307.43 L491.58,307.55 L492.05,307.67 L492.51,307.80 L492.98,307.94 L493.44,308.08 L493.91,308.22 L494.37,308.37 L494.84,308.53 L495.30,308.69 L495.77,308.85 L496.23,309.02 L496.70,309.20 L497.16,309.38 L497.63,309.57 L498.09,309.76 L498.55,309.96 L499.02,310.16 L499.48,310.37 L499.95,310.58 L500.41,310.80 L500.88,311.02 L501.34,311.25 L501.81,311.49 L502.27,311.73 L502.74,311.97 L503.20,312.22 L503.67,312.47 L504.13,312.72 L504.60,312.98 L505.06,313.24 L505.53,313.51 L505.99,313.77 L506.45,314.04 L506.92,314.30 L507.38,314.57 L507.85,314.83 L508.31,315.09 L508.78,315.35 L509.24,315.61 L509.71,315.86 L510.17,316.11 L510.64,316.35 L511.10,316.58 L511.57,316.80 L512.03,317.01 L512.50,317.21 L512.96,317.40 L513.43,317.57 L513.89,317.72 L514.35,317.86 L514.82,317.98 L515.28,318.08 L515.75,318.16 L516.21,318.21 L516.68,318.24 L517.14,318.24 L517.61,318.22 L518.07,318.16 L518.54,318.08 L519.00,317.96 L519.47,317.81 L519.93,317.63 L520.40,317.41 L520.86,317.16 L521.33,316.87 L521.79,316.55 L522.25,316.18 L522.72,315.78 L523.18,315.34 L523.65,314.87 L524.11,314.35 L524.58,313.80 L525.04,313.21 L525.51,312.59 L525.97,311.93 L526.44,311.24 L526.90,310.51 L527.37,309.75 L527.83,308.96 L528.30,308.15 L528.76,307.30 L529.23,306.43 L529.69,305.53 L530.15,304.62 L530.62,303.68 L531.08,302.72 L531.55,301.75 L532.01,300.77 L532.48,299.77 L532.94,298.76 L533.41,297.75 L533.87,296.73 L534.34,295.71 L534.80,294.68 L535.27,293.65 L535.73,292.63 L536.20,291.61 L536.66,290.59 L537.12,289.58 L537.59,288.58 L538.05,287.59 L538.52,286.61 L538.98,285.64 L539.45,284.69 L539.91,283.75 L540.38,282.83 L540.84,281.92 L541.31,281.02 L541.77,280.15 L542.24,279.29 L542.70,278.46 L543.17,277.64 L543.63,276.84 L544.10,276.06 L544.56,275.30 L545.02,274.56 L545.49,273.83 L545.95,273.13 L546.42,272.45 L546.88,271.79 L547.35,271.15 L547.81,270.53 L548.28,269.92 L548.74,269.34 L549.21,268.77 L549.67,268.23 L550.14,267.70 L550.60,267.19 L551.07,266.69 L551.53,266.22 L552.00,265.76 L552.46,265.31 L552.92,264.88 L553.39,264.47 L553.85,264.08 L554.32,263.69 L554.78,263.32 L555.25,262.97 L555.71,262.63 L556.18,262.30 L556.64,261.98 L557.11,261.68 L557.57,261.39 L558.04,261.11 L558.50,260.84 L558.97,260.58 L559.43,260.33 L559.90,260.09 L560.36,259.87 L560.82,259.65 L561.29,259.44 L561.75,259.23 L562.22,259.04 L562.68,258.85 L563.15,258.68 L563.61,258.50 L564.08,258.34 L564.54,258.18 L565.01,258.03 L565.47,257.89 L565.94,257.75 L566.40,257.62 L566.87,257.49 L567.33,257.37 L567.80,257.26 L568.26,257.14 L568.72,257.04 L569.19,256.94 L569.65,256.84 L570.12,256.74 L570.58,256.66 L571.05,256.57 L571.51,256.49 L571.98,256.41 L572.44,256.33 L572.91,256.26 L573.37,256.19 L573.84,256.13 L574.30,256.07 L574.77,256.01 L575.23,255.95 L575.69,255.89 L576.16,255.84 L576.62,255.79 L577.09,255.74 L577.55,255.70 L578.02,255.65 L578.48,255.61 L578.95,255.57 L579.41,255.53 L579.88,255.50 L580.34,255.46 L580.81,255.43 L581.27,255.39 L581.74,255.36 L582.20,255.33 L582.67,255.31 L583.13,255.28 L583.59,255.25 L584.06,255.23 L584.52,255.21 L584.99,255.18 L585.45,255.16 L585.92,255.14 L586.38,255.12 L586.85,255.10 L587.31,255.08 L587.78,255.07 L588.24,255.05 L588.71,255.04 L589.17,255.02 L589.64,255.01 L590.10,254.99 L590.57,254.98 L591.03,254.97 L591.49,254.96 L591.96,254.94 L592.42,254.93 L592.89,254.92 L593.35,254.91 L593.82,254.90 L594.28,254.89 L594.75,254.89 L595.21,254.88 L595.68,254.87 L596.14,254.86 L596.61,254.85 L597.07,254.85 L597.54,254.84 L598.00,254.83 L598.47,254.83 L598.93,254.82 L599.39,254.82 L599.86,254.81 L600.32,254.81 L600.79,254.80 L601.25,254.80 L601.72,254.79 L602.18,254.79 L602.65,254.79 L603.11,254.78 L603.58,254.78 L604.04,254.77 L604.51,254.77 L604.97,254.77 L605.44,254.76 L605.90,254.76 L606.37,254.76 L606.83,254.76 L607.29,254.75 L607.76,254.75 L608.22,254.75 L608.69,254.75 L609.15,254.74 L609.62,254.74 L610.08,254.74 L610.55,254.74 L611.01,254.74 L611.48,254.74 L611.94,254.73 L612.41,254.73 L612.87,254.73 L613.34,254.73 L613.80,254.73 L614.27,254.73 L614.73,254.73 L615.19,254.72 L615.66,254.72 L616.12,254.72 L616.59,254.72 L617.05,254.72 L617.52,254.72 L617.98,254.72 L618.45,254.72 L618.91,254.72 L619.38,254.72 L619.84,254.71 L620.31,254.71 L620.77,254.71 L621.24,254.71 L621.70,254.71 L622.16,254.71 L622.63,254.71 L623.09,254.71 L623.56,254.71 L624.02,254.71 L624.49,254.71 L624.95,254.71 L625.42,254.71 L625.88,254.71 L626.35,254.71 L626.81,254.71 L627.28,254.71 L627.74,254.71 L628.21,254.71 L628.67,254.71 L629.14,254.71 L629.60,254.70 L630.06,254.70 L630.53,254.70 L630.99,254.70 L631.46,254.70 L631.92,254.70 L632.39,254.70 L632.85,254.70 L633.32,254.70 L633.78,254.70 L634.25,254.70 L634.71,254.70 L635.18,254.70 L635.64,254.70 L636.11,254.70 L636.57,254.70 L637.04,254.70 L637.50,254.70 L637.96,254.70 L638.43,254.70 L638.89,254.70 L639.36,254.70 L639.82,254.70 L640.29,254.70 L640.75,254.70 L641.22,254.70 L641.68,254.70 L642.15,254.70 L642.61,254.70 L643.08,254.70 L643.54,254.70 L644.01,254.70 L644.47,254.70 L644.94,254.70 L645.40,254.70" stroke="#000" stroke-width="5.5" clip-path="url(#cr1)"/>
<path d="M413.05,391.14 L413.51,391.14 L413.98,391.14 L414.44,391.14 L414.91,391.14 L415.37,391.14 L415.84,391.14 L416.30,391.14 L416.77,391.14 L417.23,391.14 L417.70,391.14 L418.16,391.14 L418.63,391.14 L419.09,391.14 L419.56,391.14 L420.02,391.14 L420.49,391.14 L420.95,391.14 L421.41,391.14 L421.88,391.14 L422.34,391.14 L422.81,391.14 L423.27,391.14 L423.74,391.14 L424.20,391.14 L424.67,391.14 L425.13,391.14 L425.60,391.14 L426.06,391.14 L426.53,391.14 L426.99,391.14 L427.46,391.14 L427.92,391.14 L428.39,391.14 L428.85,391.14 L429.31,391.14 L429.78,391.14 L430.24,391.14 L430.71,391.14 L431.17,391.13 L431.64,391.13 L432.10,391.13 L432.57,391.13 L433.03,391.13 L433.50,391.13 L433.96,391.13 L434.43,391.13 L434.89,391.13 L435.36,391.13 L435.82,391.13 L436.29,391.13 L436.75,391.13 L437.21,391.13 L437.68,391.13 L438.14,391.13 L438.61,391.12 L439.07,391.12 L439.54,391.12 L440.00,391.12 L440.47,391.12 L440.93,391.12 L441.40,391.12 L441.86,391.12 L442.33,391.12 L442.79,391.12 L443.26,391.11 L443.72,391.11 L444.18,391.11 L444.65,391.11 L445.11,391.11 L445.58,391.11 L446.04,391.10 L446.51,391.10 L446.97,391.10 L447.44,391.10 L447.90,391.10 L448.37,391.09 L448.83,391.09 L449.30,391.09 L449.76,391.09 L450.23,391.08 L450.69,391.08 L451.16,391.08 L451.62,391.08 L452.08,391.07 L452.55,391.07 L453.01,391.07 L453.48,391.06 L453.94,391.06 L454.41,391.05 L454.87,391.05 L455.34,391.05 L455.80,391.04 L456.27,391.04 L456.73,391.03 L457.20,391.03 L457.66,391.02 L458.13,391.01 L458.59,391.01 L459.06,391.00 L459.52,391.00 L459.98,390.99 L460.45,390.98 L460.91,390.97 L461.38,390.97 L461.84,390.96 L462.31,390.95 L462.77,390.94 L463.24,390.93 L463.70,390.92 L464.17,390.91 L464.63,390.90 L465.10,390.89 L465.56,390.88 L466.03,390.86 L466.49,390.85 L466.96,390.84 L467.42,390.82 L467.88,390.81 L468.35,390.79 L468.81,390.77 L469.28,390.76 L469.74,390.74 L470.21,390.72 L470.67,390.70 L471.14,390.68" stroke="#000" stroke-width="5.5" stroke-dasharray="28.5 11.4" clip-path="url(#cr1)"/>
<path d="M471.14,390.68 L471.60,390.66 L472.07,390.64 L472.53,390.61 L473.00,390.59 L473.46,390.56 L473.93,390.54 L474.39,390.51 L474.86,390.48 L475.32,390.45 L475.78,390.42 L476.25,390.38 L476.71,390.35 L477.18,390.31 L477.64,390.27 L478.11,390.23 L478.57,390.19 L479.04,390.14 L479.50,390.10 L479.97,390.05 L480.43,390.00 L480.90,389.95 L481.36,389.89 L481.83,389.83 L482.29,389.77 L482.75,389.71 L483.22,389.65 L483.68,389.58 L484.15,389.50 L484.61,389.43 L485.08,389.35 L485.54,389.27 L486.01,389.18 L486.47,389.09 L486.94,389.00 L487.40,388.90 L487.87,388.80 L488.33,388.69 L488.80,388.58 L489.26,388.46 L489.73,388.34 L490.19,388.21 L490.65,388.08 L491.12,387.94 L491.58,387.79 L492.05,387.64 L492.51,387.48 L492.98,387.32 L493.44,387.14 L493.91,386.96 L494.37,386.78 L494.84,386.58 L495.30,386.38 L495.77,386.16 L496.23,385.94 L496.70,385.71 L497.16,385.46 L497.63,385.21 L498.09,384.95 L498.55,384.67 L499.02,384.39 L499.48,384.09 L499.95,383.78 L500.41,383.46 L500.88,383.12 L501.34,382.77 L501.81,382.40 L502.27,382.02 L502.74,381.63 L503.20,381.22 L503.67,380.79 L504.13,380.35 L504.60,379.89 L505.06,379.41 L505.53,378.91 L505.99,378.40 L506.45,377.86 L506.92,377.31 L507.38,376.73 L507.85,376.14 L508.31,375.52 L508.78,374.88 L509.24,374.22 L509.71,373.53 L510.17,372.82 L510.64,372.09 L511.10,371.33 L511.57,370.55 L512.03,369.74 L512.50,368.91 L512.96,368.05 L513.43,367.16 L513.89,366.25 L514.35,365.31 L514.82,364.35 L515.28,363.36 L515.75,362.34 L516.21,361.29 L516.68,360.22 L517.14,359.12 L517.61,357.99 L518.07,356.84 L518.54,355.65 L519.00,354.45 L519.47,353.22 L519.93,351.96 L520.40,350.68 L520.86,349.37 L521.33,348.04 L521.79,346.69 L522.25,345.32 L522.72,343.92 L523.18,342.51 L523.65,341.08 L524.11,339.63 L524.58,338.16 L525.04,336.68 L525.51,335.19 L525.97,333.68 L526.44,332.17 L526.90,330.64 L527.37,329.11 L527.83,327.57 L528.30,326.02 L528.76,324.47 L529.23,322.92 L529.69,321.37 L530.15,319.82 L530.62,318.28 L531.08,316.74 L531.55,315.20 L532.01,313.68 L532.48,312.16 L532.94,310.65 L533.41,309.16 L533.87,307.68 L534.34,306.21 L534.80,304.76 L535.27,303.33 L535.73,301.92 L536.20,300.52 L536.66,299.15 L537.12,297.80 L537.59,296.47 L538.05,295.17 L538.52,293.88 L538.98,292.63 L539.45,291.39 L539.91,290.19 L540.38,289.01 L540.84,287.85 L541.31,286.73 L541.77,285.63 L542.24,284.55 L542.70,283.50 L543.17,282.49 L543.63,281.49 L544.10,280.53 L544.56,279.59 L545.02,278.68 L545.49,277.79 L545.95,276.93 L546.42,276.10 L546.88,275.29 L547.35,274.51 L547.81,273.75 L548.28,273.02 L548.74,272.31 L549.21,271.63 L549.67,270.96 L550.14,270.32 L550.60,269.71 L551.07,269.11 L551.53,268.53 L552.00,267.98 L552.46,267.44 L552.92,266.93 L553.39,266.43 L553.85,265.95 L554.32,265.49 L554.78,265.05 L555.25,264.62 L555.71,264.21 L556.18,263.82 L556.64,263.44 L557.11,263.07 L557.57,262.72 L558.04,262.39 L558.50,262.06 L558.97,261.75 L559.43,261.46 L559.90,261.17 L560.36,260.89 L560.82,260.63 L561.29,260.38 L561.75,260.14 L562.22,259.90 L562.68,259.68 L563.15,259.47 L563.61,259.26 L564.08,259.07 L564.54,258.88 L565.01,258.70 L565.47,258.53 L565.94,258.36 L566.40,258.20 L566.87,258.05 L567.33,257.90 L567.80,257.76 L568.26,257.63 L568.72,257.50 L569.19,257.38 L569.65,257.26 L570.12,257.15 L570.58,257.05 L571.05,256.94 L571.51,256.84 L571.98,256.75 L572.44,256.66 L572.91,256.57 L573.37,256.49 L573.84,256.41 L574.30,256.34 L574.77,256.27 L575.23,256.20 L575.69,256.13 L576.16,256.07 L576.62,256.01 L577.09,255.95 L577.55,255.90 L578.02,255.84 L578.48,255.79 L578.95,255.74 L579.41,255.70 L579.88,255.65 L580.34,255.61 L580.81,255.57 L581.27,255.53 L581.74,255.50 L582.20,255.46 L582.67,255.43 L583.13,255.39 L583.59,255.36 L584.06,255.33 L584.52,255.31 L584.99,255.28 L585.45,255.25 L585.92,255.23 L586.38,255.21 L586.85,255.18 L587.31,255.16 L587.78,255.14 L588.24,255.12 L588.71,255.10 L589.17,255.08 L589.64,255.07 L590.10,255.05 L590.57,255.04 L591.03,255.02 L591.49,255.01 L591.96,254.99 L592.42,254.98 L592.89,254.97 L593.35,254.96 L593.82,254.94 L594.28,254.93 L594.75,254.92 L595.21,254.91 L595.68,254.90 L596.14,254.89 L596.61,254.89 L597.07,254.88 L597.54,254.87 L598.00,254.86 L598.47,254.85 L598.93,254.85 L599.39,254.84 L599.86,254.83 L600.32,254.83 L600.79,254.82 L601.25,254.82 L601.72,254.81 L602.18,254.81 L602.65,254.80 L603.11,254.80 L603.58,254.79 L604.04,254.79 L604.51,254.78 L604.97,254.78 L605.44,254.78 L605.90,254.77 L606.37,254.77 L606.83,254.77 L607.29,254.76 L607.76,254.76 L608.22,254.76 L608.69,254.76 L609.15,254.75 L609.62,254.75 L610.08,254.75 L610.55,254.75 L611.01,254.74 L611.48,254.74 L611.94,254.74 L612.41,254.74 L612.87,254.74 L613.34,254.73 L613.80,254.73 L614.27,254.73 L614.73,254.73 L615.19,254.73 L615.66,254.73 L616.12,254.73 L616.59,254.72 L617.05,254.72 L617.52,254.72 L617.98,254.72 L618.45,254.72 L618.91,254.72 L619.38,254.72 L619.84,254.72 L620.31,254.72 L620.77,254.72 L621.24,254.72 L621.70,254.71 L622.16,254.71 L622.63,254.71 L623.09,254.71 L623.56,254.71 L624.02,254.71 L624.49,254.71 L624.95,254.71 L625.42,254.71 L625.88,254.71 L626.35,254.71 L626.81,254.71 L627.28,254.71 L627.74,254.71 L628.21,254.71 L628.67,254.71 L629.14,254.71 L629.60,254.71 L630.06,254.71 L630.53,254.71 L630.99,254.70 L631.46,254.70 L631.92,254.70 L632.39,254.70 L632.85,254.70 L633.32,254.70 L633.78,254.70 L634.25,254.70 L634.71,254.70 L635.18,254.70 L635.64,254.70 L636.11,254.70 L636.57,254.70 L637.04,254.70 L637.50,254.70 L637.96,254.70 L638.43,254.70 L638.89,254.70 L639.36,254.70 L639.82,254.70 L640.29,254.70 L640.75,254.70 L641.22,254.70 L641.68,254.70 L642.15,254.70 L642.61,254.70 L643.08,254.70 L643.54,254.70 L644.01,254.70 L644.47,254.70 L644.94,254.70 L645.40,254.70" stroke="#000" stroke-width="5.5" stroke-dasharray="28.5 11.4" clip-path="url(#cr1)"/>
<path d="M413.05,471.3 L413.05,640.7 L645.4,640.7 L645.4,471.3" stroke="#000" stroke-width="1.5" fill="none"/>
<path d="M413.05,640.7 V638.50 M529.23,640.7 V638.50 M645.40,640.7 V638.50 M413.05,640.70 H415.25 M413.05,562.33 H415.25 M413.05,483.96 H415.25 M645.4,640.70 H643.20 M645.4,606.48 H643.20 M645.4,572.25 H643.20 M645.4,538.03 H643.20 M645.4,503.81 H643.20" stroke="#000" stroke-width="1.3"/>
<path d="M413.05,486.70 L413.51,486.70 L413.98,486.70 L414.44,486.70 L414.91,486.70 L415.37,486.70 L415.84,486.70 L416.30,486.70 L416.77,486.70 L417.23,486.70 L417.70,486.70 L418.16,486.70 L418.63,486.70 L419.09,486.70 L419.56,486.70 L420.02,486.70 L420.49,486.70 L420.95,486.70 L421.41,486.70 L421.88,486.70 L422.34,486.70 L422.81,486.70 L423.27,486.70 L423.74,486.71 L424.20,486.71 L424.67,486.71 L425.13,486.71 L425.60,486.71 L426.06,486.71 L426.53,486.71 L426.99,486.71 L427.46,486.71 L427.92,486.71 L428.39,486.71 L428.85,486.71 L429.31,486.71 L429.78,486.71 L430.24,486.71 L430.71,486.71 L431.17,486.71 L431.64,486.71 L432.10,486.72 L432.57,486.72 L433.03,486.72 L433.50,486.72 L433.96,486.72 L434.43,486.72 L434.89,486.72 L435.36,486.72 L435.82,486.72 L436.29,486.72 L436.75,486.73 L437.21,486.73 L437.68,486.73 L438.14,486.73 L438.61,486.73 L439.07,486.73 L439.54,486.73 L440.00,486.74 L440.47,486.74 L440.93,486.74 L441.40,486.74 L441.86,486.74 L442.33,486.75 L442.79,486.75 L443.26,486.75 L443.72,486.75 L444.18,486.76 L444.65,486.76 L445.11,486.76 L445.58,486.76 L446.04,486.77 L446.51,486.77 L446.97,486.77 L447.44,486.78 L447.90,486.78 L448.37,486.79 L448.83,486.79 L449.30,486.79 L449.76,486.80 L450.23,486.80 L450.69,486.81 L451.16,486.81 L451.62,486.82 L452.08,486.82 L452.55,486.83 L453.01,486.84 L453.48,486.84 L453.94,486.85 L454.41,486.86 L454.87,486.86 L455.34,486.87 L455.80,486.88 L456.27,486.89 L456.73,486.90 L457.20,486.91 L457.66,486.92 L458.13,486.93 L458.59,486.94 L459.06,486.95 L459.52,486.96 L459.98,486.97 L460.45,486.98 L460.91,487.00 L461.38,487.01 L461.84,487.03 L462.31,487.04 L462.77,487.06 L463.24,487.07 L463.70,487.09 L464.17,487.11 L464.63,487.13 L465.10,487.15 L465.56,487.17 L466.03,487.19 L466.49,487.22 L466.96,487.24 L467.42,487.27 L467.88,487.29 L468.35,487.32 L468.81,487.35 L469.28,487.38 L469.74,487.41 L470.21,487.44 L470.67,487.48 L471.14,487.51 L471.60,487.55 L472.07,487.59 L472.53,487.63 L473.00,487.68 L473.46,487.72 L473.93,487.77 L474.39,487.82 L474.86,487.87 L475.32,487.92 L475.78,487.98 L476.25,488.04 L476.71,488.10 L477.18,488.17 L477.64,488.23 L478.11,488.30 L478.57,488.38 L479.04,488.46 L479.50,488.54 L479.97,488.62 L480.43,488.71 L480.90,488.80 L481.36,488.90 L481.83,489.00 L482.29,489.10 L482.75,489.21 L483.22,489.33 L483.68,489.45 L484.15,489.58 L484.61,489.71 L485.08,489.85 L485.54,489.99 L486.01,490.14 L486.47,490.30 L486.94,490.46 L487.40,490.63 L487.87,490.81 L488.33,490.99 L488.80,491.19 L489.26,491.39 L489.73,491.60 L490.19,491.82 L490.65,492.05 L491.12,492.29 L491.58,492.55 L492.05,492.81 L492.51,493.08 L492.98,493.36 L493.44,493.66 L493.91,493.97 L494.37,494.29 L494.84,494.62 L495.30,494.97 L495.77,495.33 L496.23,495.71 L496.70,496.10 L497.16,496.50 L497.63,496.93 L498.09,497.37 L498.55,497.82 L499.02,498.29 L499.48,498.78 L499.95,499.29 L500.41,499.82 L500.88,500.36 L501.34,500.93 L501.81,501.51 L502.27,502.11 L502.74,502.74 L503.20,503.38 L503.67,504.04 L504.13,504.72 L504.60,505.42 L505.06,506.14 L505.53,506.88 L505.99,507.64 L506.45,508.42 L506.92,509.21 L507.38,510.02 L507.85,510.85 L508.31,511.69 L508.78,512.55 L509.24,513.42 L509.71,514.30 L510.17,515.19 L510.64,516.09 L511.10,517.00 L511.57,517.90 L512.03,518.81 L512.50,519.72 L512.96,520.63 L513.43,521.53 L513.89,522.42 L514.35,523.30 L514.82,524.16 L515.28,525.00 L515.75,525.83 L516.21,526.62 L516.68,527.39 L517.14,528.13 L517.61,528.83 L518.07,529.50 L518.54,530.12 L519.00,530.70 L519.47,531.23 L519.93,531.71 L520.40,532.14 L520.86,532.52 L521.33,532.84 L521.79,533.10 L522.25,533.31 L522.72,533.45 L523.18,533.54 L523.65,533.57 L524.11,533.54 L524.58,533.45 L525.04,533.30 L525.51,533.10 L525.97,532.84 L526.44,532.54 L526.90,532.18 L527.37,531.77 L527.83,531.32 L528.30,530.82 L528.76,530.29 L529.23,529.72 L529.69,529.12 L530.15,528.49 L530.62,527.83 L531.08,527.15 L531.55,526.45 L532.01,525.73 L532.48,524.99 L532.94,524.25 L533.41,523.50 L533.87,522.74 L534.34,521.98 L534.80,521.21 L535.27,520.45 L535.73,519.69 L536.20,518.94 L536.66,518.19 L537.12,517.45 L537.59,516.72 L538.05,516.00 L538.52,515.29 L538.98,514.60 L539.45,513.91 L539.91,513.25 L540.38,512.60 L540.84,511.96 L541.31,511.34 L541.77,510.73 L542.24,510.15 L542.70,509.57 L543.17,509.02 L543.63,508.48 L544.10,507.96 L544.56,507.45 L545.02,506.96 L545.49,506.49 L545.95,506.03 L546.42,505.59 L546.88,505.16 L547.35,504.75 L547.81,504.35 L548.28,503.96 L548.74,503.59 L549.21,503.24 L549.67,502.89 L550.14,502.56 L550.60,502.25 L551.07,501.94 L551.53,501.65 L552.00,501.37 L552.46,501.09 L552.92,500.83 L553.39,500.58 L553.85,500.34 L554.32,500.11 L554.78,499.89 L555.25,499.68 L555.71,499.48 L556.18,499.28 L556.64,499.09 L557.11,498.91 L557.57,498.74 L558.04,498.58 L558.50,498.42 L558.97,498.27 L559.43,498.12 L559.90,497.98 L560.36,497.85 L560.82,497.72 L561.29,497.60 L561.75,497.48 L562.22,497.37 L562.68,497.26 L563.15,497.16 L563.61,497.06 L564.08,496.97 L564.54,496.88 L565.01,496.79 L565.47,496.71 L565.94,496.63 L566.40,496.55 L566.87,496.48 L567.33,496.41 L567.80,496.35 L568.26,496.28 L568.72,496.22 L569.19,496.17 L569.65,496.11 L570.12,496.06 L570.58,496.01 L571.05,495.96 L571.51,495.91 L571.98,495.87 L572.44,495.83 L572.91,495.78 L573.37,495.75 L573.84,495.71 L574.30,495.67 L574.77,495.64 L575.23,495.61 L575.69,495.58 L576.16,495.55 L576.62,495.52 L577.09,495.49 L577.55,495.47 L578.02,495.44 L578.48,495.42 L578.95,495.39 L579.41,495.37 L579.88,495.35 L580.34,495.33 L580.81,495.31 L581.27,495.30 L581.74,495.28 L582.20,495.26 L582.67,495.25 L583.13,495.23 L583.59,495.22 L584.06,495.20 L584.52,495.19 L584.99,495.18 L585.45,495.17 L585.92,495.15 L586.38,495.14 L586.85,495.13 L587.31,495.12 L587.78,495.11 L588.24,495.10 L588.71,495.10 L589.17,495.09 L589.64,495.08 L590.10,495.07 L590.57,495.06 L591.03,495.06 L591.49,495.05 L591.96,495.04 L592.42,495.04 L592.89,495.03 L593.35,495.03 L593.82,495.02 L594.28,495.02 L594.75,495.01 L595.21,495.01 L595.68,495.00 L596.14,495.00 L596.61,494.99 L597.07,494.99 L597.54,494.99 L598.00,494.98 L598.47,494.98 L598.93,494.98 L599.39,494.97 L599.86,494.97 L600.32,494.97 L600.79,494.97 L601.25,494.96 L601.72,494.96 L602.18,494.96 L602.65,494.96 L603.11,494.95 L603.58,494.95 L604.04,494.95 L604.51,494.95 L604.97,494.95 L605.44,494.94 L605.90,494.94 L606.37,494.94 L606.83,494.94 L607.29,494.94 L607.76,494.94 L608.22,494.94 L608.69,494.93 L609.15,494.93 L609.62,494.93 L610.08,494.93 L610.55,494.93 L611.01,494.93 L611.48,494.93 L611.94,494.93 L612.41,494.93 L612.87,494.93 L613.34,494.92 L613.80,494.92 L614.27,494.92 L614.73,494.92 L615.19,494.92 L615.66,494.92 L616.12,494.92 L616.59,494.92 L617.05,494.92 L617.52,494.92 L617.98,494.92 L618.45,494.92 L618.91,494.92 L619.38,494.92 L619.84,494.92 L620.31,494.92 L620.77,494.92 L621.24,494.92 L621.70,494.92 L622.16,494.91 L622.63,494.91 L623.09,494.91 L623.56,494.91 L624.02,494.91 L624.49,494.91 L624.95,494.91 L625.42,494.91 L625.88,494.91 L626.35,494.91 L626.81,494.91 L627.28,494.91 L627.74,494.91 L628.21,494.91 L628.67,494.91 L629.14,494.91 L629.60,494.91 L630.06,494.91 L630.53,494.91 L630.99,494.91 L631.46,494.91 L631.92,494.91 L632.39,494.91 L632.85,494.91 L633.32,494.91 L633.78,494.91 L634.25,494.91 L634.71,494.91 L635.18,494.91 L635.64,494.91 L636.11,494.91 L636.57,494.91 L637.04,494.91 L637.50,494.91 L637.96,494.91 L638.43,494.91 L638.89,494.91 L639.36,494.91 L639.82,494.91 L640.29,494.91 L640.75,494.91 L641.22,494.91 L641.68,494.91 L642.15,494.91 L642.61,494.91 L643.08,494.91 L643.54,494.91 L644.01,494.91 L644.47,494.91 L644.94,494.91 L645.40,494.91" stroke="#000" stroke-width="5.5" clip-path="url(#cr2)"/>
<path d="M413.05,623.59 L413.51,623.59 L413.98,623.59 L414.44,623.59 L414.91,623.59 L415.37,623.59 L415.84,623.59 L416.30,623.59 L416.77,623.59 L417.23,623.59 L417.70,623.59 L418.16,623.59 L418.63,623.59 L419.09,623.59 L419.56,623.59 L420.02,623.59 L420.49,623.59 L420.95,623.59 L421.41,623.59 L421.88,623.58 L422.34,623.58 L422.81,623.58 L423.27,623.58 L423.74,623.58 L424.20,623.58 L424.67,623.58 L425.13,623.58 L425.60,623.58 L426.06,623.58 L426.53,623.58 L426.99,623.58 L427.46,623.58 L427.92,623.58 L428.39,623.58 L428.85,623.58 L429.31,623.58 L429.78,623.58 L430.24,623.58 L430.71,623.58 L431.17,623.58 L431.64,623.58 L432.10,623.58 L432.57,623.58 L433.03,623.58 L433.50,623.58 L433.96,623.58 L434.43,623.58 L434.89,623.58 L435.36,623.57 L435.82,623.57 L436.29,623.57 L436.75,623.57 L437.21,623.57 L437.68,623.57 L438.14,623.57 L438.61,623.57 L439.07,623.57 L439.54,623.57 L440.00,623.57 L440.47,623.57 L440.93,623.56 L441.40,623.56 L441.86,623.56 L442.33,623.56 L442.79,623.56 L443.26,623.56 L443.72,623.56 L444.18,623.56 L444.65,623.55 L445.11,623.55 L445.58,623.55 L446.04,623.55 L446.51,623.55 L446.97,623.54 L447.44,623.54 L447.90,623.54 L448.37,623.54 L448.83,623.54 L449.30,623.53 L449.76,623.53 L450.23,623.53 L450.69,623.53 L451.16,623.52 L451.62,623.52 L452.08,623.52 L452.55,623.51 L453.01,623.51 L453.48,623.51 L453.94,623.50 L454.41,623.50 L454.87,623.49 L455.34,623.49 L455.80,623.48 L456.27,623.48 L456.73,623.47 L457.20,623.47 L457.66,623.46 L458.13,623.46 L458.59,623.45 L459.06,623.45 L459.52,623.44 L459.98,623.43 L460.45,623.42 L460.91,623.42 L461.38,623.41 L461.84,623.40 L462.31,623.39 L462.77,623.38 L463.24,623.37 L463.70,623.36 L464.17,623.35 L464.63,623.34 L465.10,623.33 L465.56,623.32 L466.03,623.31 L466.49,623.29 L466.96,623.28 L467.42,623.27 L467.88,623.25 L468.35,623.23 L468.81,623.22 L469.28,623.20 L469.74,623.18 L470.21,623.16 L470.67,623.14 L471.14,623.12" stroke="#000" stroke-width="5.5" stroke-dasharray="28.5 11.4" clip-path="url(#cr2)"/>
<path d="M471.14,623.12 L471.60,623.10 L472.07,623.08 L472.53,623.06 L473.00,623.03 L473.46,623.01 L473.93,622.98 L474.39,622.95 L474.86,622.92 L475.32,622.89 L475.78,622.86 L476.25,622.82 L476.71,622.79 L477.18,622.75 L477.64,622.71 L478.11,622.67 L478.57,622.63 L479.04,622.59 L479.50,622.54 L479.97,622.49 L480.43,622.44 L480.90,622.39 L481.36,622.33 L481.83,622.27 L482.29,622.21 L482.75,622.15 L483.22,622.08 L483.68,622.02 L484.15,621.94 L484.61,621.87 L485.08,621.79 L485.54,621.71 L486.01,621.62 L486.47,621.53 L486.94,621.44 L487.40,621.34 L487.87,621.23 L488.33,621.13 L488.80,621.01 L489.26,620.90 L489.73,620.77 L490.19,620.65 L490.65,620.51 L491.12,620.37 L491.58,620.23 L492.05,620.07 L492.51,619.92 L492.98,619.75 L493.44,619.58 L493.91,619.40 L494.37,619.21 L494.84,619.01 L495.30,618.80 L495.77,618.59 L496.23,618.37 L496.70,618.13 L497.16,617.89 L497.63,617.64 L498.09,617.37 L498.55,617.10 L499.02,616.81 L499.48,616.51 L499.95,616.20 L500.41,615.88 L500.88,615.54 L501.34,615.19 L501.81,614.82 L502.27,614.44 L502.74,614.04 L503.20,613.63 L503.67,613.20 L504.13,612.76 L504.60,612.30 L505.06,611.82 L505.53,611.32 L505.99,610.80 L506.45,610.27 L506.92,609.71 L507.38,609.13 L507.85,608.53 L508.31,607.91 L508.78,607.27 L509.24,606.61 L509.71,605.92 L510.17,605.21 L510.64,604.47 L511.10,603.71 L511.57,602.93 L512.03,602.12 L512.50,601.28 L512.96,600.42 L513.43,599.53 L513.89,598.62 L514.35,597.67 L514.82,596.71 L515.28,595.71 L515.75,594.69 L516.21,593.64 L516.68,592.56 L517.14,591.46 L517.61,590.33 L518.07,589.17 L518.54,587.98 L519.00,586.77 L519.47,585.54 L519.93,584.28 L520.40,582.99 L520.86,581.68 L521.33,580.35 L521.79,578.99 L522.25,577.61 L522.72,576.22 L523.18,574.80 L523.65,573.36 L524.11,571.91 L524.58,570.44 L525.04,568.95 L525.51,567.45 L525.97,565.94 L526.44,564.42 L526.90,562.89 L527.37,561.35 L527.83,559.80 L528.30,558.25 L528.76,556.70 L529.23,555.14 L529.69,553.59 L530.15,552.03 L530.62,550.48 L531.08,548.94 L531.55,547.40 L532.01,545.87 L532.48,544.35 L532.94,542.83 L533.41,541.34 L533.87,539.85 L534.34,538.38 L534.80,536.93 L535.27,535.49 L535.73,534.07 L536.20,532.67 L536.66,531.30 L537.12,529.94 L537.59,528.61 L538.05,527.30 L538.52,526.01 L538.98,524.75 L539.45,523.51 L539.91,522.30 L540.38,521.12 L540.84,519.96 L541.31,518.83 L541.77,517.73 L542.24,516.65 L542.70,515.60 L543.17,514.58 L543.63,513.58 L544.10,512.61 L544.56,511.67 L545.02,510.76 L545.49,509.87 L545.95,509.01 L546.42,508.17 L546.88,507.36 L547.35,506.58 L547.81,505.82 L548.28,505.08 L548.74,504.37 L549.21,503.68 L549.67,503.02 L550.14,502.37 L550.60,501.75 L551.07,501.16 L551.53,500.58 L552.00,500.02 L552.46,499.48 L552.92,498.97 L553.39,498.47 L553.85,497.99 L554.32,497.53 L554.78,497.08 L555.25,496.65 L555.71,496.24 L556.18,495.85 L556.64,495.47 L557.11,495.10 L557.57,494.75 L558.04,494.41 L558.50,494.09 L558.97,493.78 L559.43,493.48 L559.90,493.19 L560.36,492.92 L560.82,492.65 L561.29,492.40 L561.75,492.15 L562.22,491.92 L562.68,491.70 L563.15,491.48 L563.61,491.28 L564.08,491.08 L564.54,490.89 L565.01,490.71 L565.47,490.54 L565.94,490.37 L566.40,490.21 L566.87,490.06 L567.33,489.91 L567.80,489.77 L568.26,489.64 L568.72,489.51 L569.19,489.39 L569.65,489.27 L570.12,489.16 L570.58,489.05 L571.05,488.95 L571.51,488.85 L571.98,488.76 L572.44,488.67 L572.91,488.58 L573.37,488.50 L573.84,488.42 L574.30,488.34 L574.77,488.27 L575.23,488.20 L575.69,488.14 L576.16,488.07 L576.62,488.01 L577.09,487.95 L577.55,487.90 L578.02,487.85 L578.48,487.80 L578.95,487.75 L579.41,487.70 L579.88,487.66 L580.34,487.61 L580.81,487.57 L581.27,487.54 L581.74,487.50 L582.20,487.46 L582.67,487.43 L583.13,487.40 L583.59,487.37 L584.06,487.34 L584.52,487.31 L584.99,487.28 L585.45,487.26 L585.92,487.23 L586.38,487.21 L586.85,487.18 L587.31,487.16 L587.78,487.14 L588.24,487.12 L588.71,487.10 L589.17,487.09 L589.64,487.07 L590.10,487.05 L590.57,487.04 L591.03,487.02 L591.49,487.01 L591.96,486.99 L592.42,486.98 L592.89,486.97 L593.35,486.96 L593.82,486.94 L594.28,486.93 L594.75,486.92 L595.21,486.91 L595.68,486.90 L596.14,486.89 L596.61,486.89 L597.07,486.88 L597.54,486.87 L598.00,486.86 L598.47,486.85 L598.93,486.85 L599.39,486.84 L599.86,486.83 L600.32,486.83 L600.79,486.82 L601.25,486.82 L601.72,486.81 L602.18,486.81 L602.65,486.80 L603.11,486.80 L603.58,486.79 L604.04,486.79 L604.51,486.79 L604.97,486.78 L605.44,486.78 L605.90,486.77 L606.37,486.77 L606.83,486.77 L607.29,486.76 L607.76,486.76 L608.22,486.76 L608.69,486.76 L609.15,486.75 L609.62,486.75 L610.08,486.75 L610.55,486.75 L611.01,486.74 L611.48,486.74 L611.94,486.74 L612.41,486.74 L612.87,486.74 L613.34,486.73 L613.80,486.73 L614.27,486.73 L614.73,486.73 L615.19,486.73 L615.66,486.73 L616.12,486.73 L616.59,486.73 L617.05,486.72 L617.52,486.72 L617.98,486.72 L618.45,486.72 L618.91,486.72 L619.38,486.72 L619.84,486.72 L620.31,486.72 L620.77,486.72 L621.24,486.72 L621.70,486.71 L622.16,486.71 L622.63,486.71 L623.09,486.71 L623.56,486.71 L624.02,486.71 L624.49,486.71 L624.95,486.71 L625.42,486.71 L625.88,486.71 L626.35,486.71 L626.81,486.71 L627.28,486.71 L627.74,486.71 L628.21,486.71 L628.67,486.71 L629.14,486.71 L629.60,486.71 L630.06,486.71 L630.53,486.71 L630.99,486.70 L631.46,486.70 L631.92,486.70 L632.39,486.70 L632.85,486.70 L633.32,486.70 L633.78,486.70 L634.25,486.70 L634.71,486.70 L635.18,486.70 L635.64,486.70 L636.11,486.70 L636.57,486.70 L637.04,486.70 L637.50,486.70 L637.96,486.70 L638.43,486.70 L638.89,486.70 L639.36,486.70 L639.82,486.70 L640.29,486.70 L640.75,486.70 L641.22,486.70 L641.68,486.70 L642.15,486.70 L642.61,486.70 L643.08,486.70 L643.54,486.70 L644.01,486.70 L644.47,486.70 L644.94,486.70 L645.40,486.70" stroke="#000" stroke-width="5.5" stroke-dasharray="28.5 11.4" clip-path="url(#cr2)"/>
<path d="M413.05,704.0 L413.05,873.0 L645.4,873.0 L645.4,704.0" stroke="#000" stroke-width="1.5" fill="none"/>
<path d="M413.05,873.0 V870.80 M529.23,873.0 V870.80 M645.40,873.0 V870.80 M413.05,873.00 H415.25 M413.05,816.20 H415.25 M413.05,759.40 H415.25 M645.4,873.00 H643.20 M645.4,830.32 H643.20 M645.4,787.65 H643.20 M645.4,744.97 H643.20" stroke="#000" stroke-width="1.3"/>
<path d="M413.05,739.70 L413.51,739.70 L413.98,739.70 L414.44,739.70 L414.91,739.70 L415.37,739.70 L415.84,739.70 L416.30,739.70 L416.77,739.71 L417.23,739.71 L417.70,739.71 L418.16,739.71 L418.63,739.71 L419.09,739.71 L419.56,739.71 L420.02,739.71 L420.49,739.71 L420.95,739.71 L421.41,739.71 L421.88,739.71 L422.34,739.71 L422.81,739.71 L423.27,739.71 L423.74,739.71 L424.20,739.71 L424.67,739.71 L425.13,739.71 L425.60,739.71 L426.06,739.71 L426.53,739.71 L426.99,739.71 L427.46,739.71 L427.92,739.71 L428.39,739.71 L428.85,739.71 L429.31,739.71 L429.78,739.71 L430.24,739.71 L430.71,739.71 L431.17,739.71 L431.64,739.71 L432.10,739.71 L432.57,739.71 L433.03,739.71 L433.50,739.71 L433.96,739.71 L434.43,739.71 L434.89,739.71 L435.36,739.71 L435.82,739.71 L436.29,739.71 L436.75,739.71 L437.21,739.71 L437.68,739.71 L438.14,739.71 L438.61,739.71 L439.07,739.71 L439.54,739.71 L440.00,739.71 L440.47,739.72 L440.93,739.72 L441.40,739.72 L441.86,739.72 L442.33,739.72 L442.79,739.72 L443.26,739.72 L443.72,739.72 L444.18,739.72 L444.65,739.72 L445.11,739.72 L445.58,739.72 L446.04,739.72 L446.51,739.72 L446.97,739.73 L447.44,739.73 L447.90,739.73 L448.37,739.73 L448.83,739.73 L449.30,739.73 L449.76,739.73 L450.23,739.73 L450.69,739.73 L451.16,739.74 L451.62,739.74 L452.08,739.74 L452.55,739.74 L453.01,739.74 L453.48,739.74 L453.94,739.75 L454.41,739.75 L454.87,739.75 L455.34,739.75 L455.80,739.75 L456.27,739.76 L456.73,739.76 L457.20,739.76 L457.66,739.76 L458.13,739.77 L458.59,739.77 L459.06,739.77 L459.52,739.78 L459.98,739.78 L460.45,739.78 L460.91,739.79 L461.38,739.79 L461.84,739.79 L462.31,739.80 L462.77,739.80 L463.24,739.81 L463.70,739.81 L464.17,739.82 L464.63,739.82 L465.10,739.83 L465.56,739.83 L466.03,739.84 L466.49,739.84 L466.96,739.85 L467.42,739.86 L467.88,739.86 L468.35,739.87 L468.81,739.88 L469.28,739.89 L469.74,739.89 L470.21,739.90 L470.67,739.91 L471.14,739.92 L471.60,739.93 L472.07,739.94 L472.53,739.95 L473.00,739.96 L473.46,739.97 L473.93,739.99 L474.39,740.00 L474.86,740.01 L475.32,740.02 L475.78,740.04 L476.25,740.05 L476.71,740.07 L477.18,740.08 L477.64,740.10 L478.11,740.12 L478.57,740.13 L479.04,740.15 L479.50,740.17 L479.97,740.19 L480.43,740.21 L480.90,740.23 L481.36,740.25 L481.83,740.28 L482.29,740.30 L482.75,740.32 L483.22,740.35 L483.68,740.37 L484.15,740.40 L484.61,740.43 L485.08,740.45 L485.54,740.48 L486.01,740.51 L486.47,740.54 L486.94,740.57 L487.40,740.60 L487.87,740.63 L488.33,740.67 L488.80,740.70 L489.26,740.73 L489.73,740.76 L490.19,740.80 L490.65,740.83 L491.12,740.86 L491.58,740.90 L492.05,740.93 L492.51,740.96 L492.98,740.99 L493.44,741.02 L493.91,741.05 L494.37,741.08 L494.84,741.11 L495.30,741.13 L495.77,741.15 L496.23,741.17 L496.70,741.18 L497.16,741.19 L497.63,741.19 L498.09,741.19 L498.55,741.19 L499.02,741.17 L499.48,741.15 L499.95,741.12 L500.41,741.08 L500.88,741.03 L501.34,740.97 L501.81,740.89 L502.27,740.80 L502.74,740.70 L503.20,740.57 L503.67,740.43 L504.13,740.27 L504.60,740.09 L505.06,739.89 L505.53,739.66 L505.99,739.41 L506.45,739.13 L506.92,738.82 L507.38,738.47 L507.85,738.10 L508.31,737.70 L508.78,737.26 L509.24,736.78 L509.71,736.27 L510.17,735.72 L510.64,735.14 L511.10,734.52 L511.57,733.87 L512.03,733.18 L512.50,732.46 L512.96,731.71 L513.43,730.94 L513.89,730.14 L514.35,729.33 L514.82,728.50 L515.28,727.67 L515.75,726.83 L516.21,726.00 L516.68,725.19 L517.14,724.39 L517.61,723.62 L518.07,722.89 L518.54,722.21 L519.00,721.58 L519.47,721.02 L519.93,720.53 L520.40,720.11 L520.86,719.78 L521.33,719.54 L521.79,719.40 L522.25,719.36 L522.72,719.43 L523.18,719.60 L523.65,719.87 L524.11,720.25 L524.58,720.73 L525.04,721.31 L525.51,721.99 L525.97,722.75 L526.44,723.59 L526.90,724.51 L527.37,725.49 L527.83,726.53 L528.30,727.62 L528.76,728.74 L529.23,729.90 L529.69,731.07 L530.15,732.25 L530.62,733.44 L531.08,734.62 L531.55,735.79 L532.01,736.93 L532.48,738.05 L532.94,739.14 L533.41,740.20 L533.87,741.21 L534.34,742.18 L534.80,743.11 L535.27,743.99 L535.73,744.83 L536.20,745.61 L536.66,746.35 L537.12,747.04 L537.59,747.68 L538.05,748.27 L538.52,748.83 L538.98,749.33 L539.45,749.80 L539.91,750.23 L540.38,750.62 L540.84,750.97 L541.31,751.29 L541.77,751.58 L542.24,751.84 L542.70,752.08 L543.17,752.28 L543.63,752.47 L544.10,752.63 L544.56,752.77 L545.02,752.90 L545.49,753.00 L545.95,753.09 L546.42,753.17 L546.88,753.24 L547.35,753.29 L547.81,753.33 L548.28,753.37 L548.74,753.39 L549.21,753.41 L549.67,753.42 L550.14,753.43 L550.60,753.43 L551.07,753.42 L551.53,753.41 L552.00,753.40 L552.46,753.38 L552.92,753.37 L553.39,753.35 L553.85,753.32 L554.32,753.30 L554.78,753.27 L555.25,753.25 L555.71,753.22 L556.18,753.19 L556.64,753.17 L557.11,753.14 L557.57,753.11 L558.04,753.08 L558.50,753.05 L558.97,753.02 L559.43,753.00 L559.90,752.97 L560.36,752.94 L560.82,752.91 L561.29,752.89 L561.75,752.86 L562.22,752.84 L562.68,752.81 L563.15,752.79 L563.61,752.76 L564.08,752.74 L564.54,752.72 L565.01,752.70 L565.47,752.68 L565.94,752.66 L566.40,752.64 L566.87,752.62 L567.33,752.60 L567.80,752.58 L568.26,752.57 L568.72,752.55 L569.19,752.53 L569.65,752.52 L570.12,752.50 L570.58,752.49 L571.05,752.48 L571.51,752.46 L571.98,752.45 L572.44,752.44 L572.91,752.43 L573.37,752.41 L573.84,752.40 L574.30,752.39 L574.77,752.38 L575.23,752.37 L575.69,752.36 L576.16,752.36 L576.62,752.35 L577.09,752.34 L577.55,752.33 L578.02,752.32 L578.48,752.32 L578.95,752.31 L579.41,752.30 L579.88,752.30 L580.34,752.29 L580.81,752.29 L581.27,752.28 L581.74,752.27 L582.20,752.27 L582.67,752.26 L583.13,752.26 L583.59,752.26 L584.06,752.25 L584.52,752.25 L584.99,752.24 L585.45,752.24 L585.92,752.24 L586.38,752.23 L586.85,752.23 L587.31,752.23 L587.78,752.22 L588.24,752.22 L588.71,752.22 L589.17,752.21 L589.64,752.21 L590.10,752.21 L590.57,752.21 L591.03,752.21 L591.49,752.20 L591.96,752.20 L592.42,752.20 L592.89,752.20 L593.35,752.20 L593.82,752.19 L594.28,752.19 L594.75,752.19 L595.21,752.19 L595.68,752.19 L596.14,752.19 L596.61,752.19 L597.07,752.18 L597.54,752.18 L598.00,752.18 L598.47,752.18 L598.93,752.18 L599.39,752.18 L599.86,752.18 L600.32,752.18 L600.79,752.18 L601.25,752.17 L601.72,752.17 L602.18,752.17 L602.65,752.17 L603.11,752.17 L603.58,752.17 L604.04,752.17 L604.51,752.17 L604.97,752.17 L605.44,752.17 L605.90,752.17 L606.37,752.17 L606.83,752.17 L607.29,752.17 L607.76,752.17 L608.22,752.17 L608.69,752.17 L609.15,752.17 L609.62,752.17 L610.08,752.16 L610.55,752.16 L611.01,752.16 L611.48,752.16 L611.94,752.16 L612.41,752.16 L612.87,752.16 L613.34,752.16 L613.80,752.16 L614.27,752.16 L614.73,752.16 L615.19,752.16 L615.66,752.16 L616.12,752.16 L616.59,752.16 L617.05,752.16 L617.52,752.16 L617.98,752.16 L618.45,752.16 L618.91,752.16 L619.38,752.16 L619.84,752.16 L620.31,752.16 L620.77,752.16 L621.24,752.16 L621.70,752.16 L622.16,752.16 L622.63,752.16 L623.09,752.16 L623.56,752.16 L624.02,752.16 L624.49,752.16 L624.95,752.16 L625.42,752.16 L625.88,752.16 L626.35,752.16 L626.81,752.16 L627.28,752.16 L627.74,752.16 L628.21,752.16 L628.67,752.16 L629.14,752.16 L629.60,752.16 L630.06,752.16 L630.53,752.16 L630.99,752.16 L631.46,752.16 L631.92,752.16 L632.39,752.16 L632.85,752.16 L633.32,752.16 L633.78,752.16 L634.25,752.16 L634.71,752.16 L635.18,752.16 L635.64,752.16 L636.11,752.16 L636.57,752.16 L637.04,752.16 L637.50,752.16 L637.96,752.16 L638.43,752.16 L638.89,752.16 L639.36,752.16 L639.82,752.16 L640.29,752.16 L640.75,752.16 L641.22,752.16 L641.68,752.16 L642.15,752.16 L642.61,752.16 L643.08,752.16 L643.54,752.16 L644.01,752.16 L644.47,752.16 L644.94,752.16 L645.40,752.16" stroke="#000" stroke-width="5.5" clip-path="url(#cr3)"/>
<path d="M413.05,855.93 L413.51,855.93 L413.98,855.93 L414.44,855.93 L414.91,855.93 L415.37,855.93 L415.84,855.93 L416.30,855.93 L416.77,855.93 L417.23,855.93 L417.70,855.93 L418.16,855.93 L418.63,855.93 L419.09,855.93 L419.56,855.93 L420.02,855.93 L420.49,855.93 L420.95,855.93 L421.41,855.93 L421.88,855.93 L422.34,855.93 L422.81,855.92 L423.27,855.92 L423.74,855.92 L424.20,855.92 L424.67,855.92 L425.13,855.92 L425.60,855.92 L426.06,855.92 L426.53,855.92 L426.99,855.92 L427.46,855.92 L427.92,855.92 L428.39,855.92 L428.85,855.92 L429.31,855.92 L429.78,855.92 L430.24,855.92 L430.71,855.92 L431.17,855.92 L431.64,855.92 L432.10,855.92 L432.57,855.92 L433.03,855.92 L433.50,855.92 L433.96,855.92 L434.43,855.92 L434.89,855.92 L435.36,855.92 L435.82,855.91 L436.29,855.91 L436.75,855.91 L437.21,855.91 L437.68,855.91 L438.14,855.91 L438.61,855.91 L439.07,855.91 L439.54,855.91 L440.00,855.91 L440.47,855.91 L440.93,855.90 L441.40,855.90 L441.86,855.90 L442.33,855.90 L442.79,855.90 L443.26,855.90 L443.72,855.90 L444.18,855.90 L444.65,855.89 L445.11,855.89 L445.58,855.89 L446.04,855.89 L446.51,855.89 L446.97,855.89 L447.44,855.88 L447.90,855.88 L448.37,855.88 L448.83,855.88 L449.30,855.87 L449.76,855.87 L450.23,855.87 L450.69,855.87 L451.16,855.86 L451.62,855.86 L452.08,855.86 L452.55,855.85 L453.01,855.85 L453.48,855.85 L453.94,855.84 L454.41,855.84 L454.87,855.83 L455.34,855.83 L455.80,855.83 L456.27,855.82 L456.73,855.82 L457.20,855.81 L457.66,855.80 L458.13,855.80 L458.59,855.79 L459.06,855.79 L459.52,855.78 L459.98,855.77 L460.45,855.77 L460.91,855.76 L461.38,855.75 L461.84,855.74 L462.31,855.73 L462.77,855.72 L463.24,855.71 L463.70,855.70 L464.17,855.69 L464.63,855.68 L465.10,855.67 L465.56,855.66 L466.03,855.65 L466.49,855.63 L466.96,855.62 L467.42,855.61 L467.88,855.59 L468.35,855.58 L468.81,855.56 L469.28,855.54 L469.74,855.52 L470.21,855.51 L470.67,855.49 L471.14,855.47" stroke="#000" stroke-width="5.5" stroke-dasharray="28.5 11.4" clip-path="url(#cr3)"/>
<path d="M471.14,855.47 L471.60,855.44 L472.07,855.42 L472.53,855.40 L473.00,855.37 L473.46,855.35 L473.93,855.32 L474.39,855.29 L474.86,855.26 L475.32,855.23 L475.78,855.20 L476.25,855.17 L476.71,855.13 L477.18,855.09 L477.64,855.06 L478.11,855.02 L478.57,854.97 L479.04,854.93 L479.50,854.88 L479.97,854.83 L480.43,854.78 L480.90,854.73 L481.36,854.68 L481.83,854.62 L482.29,854.56 L482.75,854.49 L483.22,854.43 L483.68,854.36 L484.15,854.29 L484.61,854.21 L485.08,854.13 L485.54,854.05 L486.01,853.96 L486.47,853.88 L486.94,853.78 L487.40,853.68 L487.87,853.58 L488.33,853.47 L488.80,853.36 L489.26,853.24 L489.73,853.12 L490.19,852.99 L490.65,852.86 L491.12,852.72 L491.58,852.58 L492.05,852.42 L492.51,852.26 L492.98,852.10 L493.44,851.93 L493.91,851.75 L494.37,851.56 L494.84,851.36 L495.30,851.16 L495.77,850.94 L496.23,850.72 L496.70,850.49 L497.16,850.24 L497.63,849.99 L498.09,849.73 L498.55,849.45 L499.02,849.17 L499.48,848.87 L499.95,848.56 L500.41,848.23 L500.88,847.90 L501.34,847.55 L501.81,847.18 L502.27,846.80 L502.74,846.41 L503.20,846.00 L503.67,845.57 L504.13,845.13 L504.60,844.66 L505.06,844.19 L505.53,843.69 L505.99,843.17 L506.45,842.64 L506.92,842.08 L507.38,841.51 L507.85,840.91 L508.31,840.29 L508.78,839.65 L509.24,838.99 L509.71,838.30 L510.17,837.59 L510.64,836.86 L511.10,836.10 L511.57,835.32 L512.03,834.51 L512.50,833.67 L512.96,832.81 L513.43,831.93 L513.89,831.02 L514.35,830.08 L514.82,829.11 L515.28,828.12 L515.75,827.10 L516.21,826.05 L516.68,824.97 L517.14,823.87 L517.61,822.74 L518.07,821.59 L518.54,820.41 L519.00,819.20 L519.47,817.97 L519.93,816.71 L520.40,815.43 L520.86,814.12 L521.33,812.79 L521.79,811.44 L522.25,810.06 L522.72,808.67 L523.18,807.25 L523.65,805.82 L524.11,804.37 L524.58,802.90 L525.04,801.42 L525.51,799.93 L525.97,798.42 L526.44,796.90 L526.90,795.37 L527.37,793.84 L527.83,792.29 L528.30,790.75 L528.76,789.20 L529.23,787.65 L529.69,786.09 L530.15,784.54 L530.62,783.00 L531.08,781.46 L531.55,779.92 L532.01,778.39 L532.48,776.87 L532.94,775.37 L533.41,773.87 L533.87,772.39 L534.34,770.92 L534.80,769.47 L535.27,768.04 L535.73,766.62 L536.20,765.23 L536.66,763.85 L537.12,762.50 L537.59,761.17 L538.05,759.87 L538.52,758.58 L538.98,757.32 L539.45,756.09 L539.91,754.88 L540.38,753.70 L540.84,752.55 L541.31,751.42 L541.77,750.32 L542.24,749.24 L542.70,748.19 L543.17,747.17 L543.63,746.18 L544.10,745.21 L544.56,744.28 L545.02,743.36 L545.49,742.48 L545.95,741.62 L546.42,740.78 L546.88,739.98 L547.35,739.19 L547.81,738.43 L548.28,737.70 L548.74,736.99 L549.21,736.30 L549.67,735.64 L550.14,735.00 L550.60,734.38 L551.07,733.79 L551.53,733.21 L552.00,732.65 L552.46,732.12 L552.92,731.60 L553.39,731.11 L553.85,730.63 L554.32,730.17 L554.78,729.72 L555.25,729.29 L555.71,728.88 L556.18,728.49 L556.64,728.11 L557.11,727.74 L557.57,727.39 L558.04,727.06 L558.50,726.73 L558.97,726.42 L559.43,726.13 L559.90,725.84 L560.36,725.56 L560.82,725.30 L561.29,725.05 L561.75,724.81 L562.22,724.57 L562.68,724.35 L563.15,724.14 L563.61,723.93 L564.08,723.73 L564.54,723.55 L565.01,723.37 L565.47,723.19 L565.94,723.03 L566.40,722.87 L566.87,722.72 L567.33,722.57 L567.80,722.43 L568.26,722.30 L568.72,722.17 L569.19,722.05 L569.65,721.93 L570.12,721.82 L570.58,721.71 L571.05,721.61 L571.51,721.51 L571.98,721.42 L572.44,721.33 L572.91,721.24 L573.37,721.16 L573.84,721.08 L574.30,721.00 L574.77,720.93 L575.23,720.86 L575.69,720.80 L576.16,720.73 L576.62,720.67 L577.09,720.62 L577.55,720.56 L578.02,720.51 L578.48,720.46 L578.95,720.41 L579.41,720.36 L579.88,720.32 L580.34,720.28 L580.81,720.24 L581.27,720.20 L581.74,720.16 L582.20,720.12 L582.67,720.09 L583.13,720.06 L583.59,720.03 L584.06,720.00 L584.52,719.97 L584.99,719.94 L585.45,719.92 L585.92,719.89 L586.38,719.87 L586.85,719.85 L587.31,719.83 L587.78,719.81 L588.24,719.79 L588.71,719.77 L589.17,719.75 L589.64,719.73 L590.10,719.72 L590.57,719.70 L591.03,719.68 L591.49,719.67 L591.96,719.66 L592.42,719.64 L592.89,719.63 L593.35,719.62 L593.82,719.61 L594.28,719.60 L594.75,719.59 L595.21,719.58 L595.68,719.57 L596.14,719.56 L596.61,719.55 L597.07,719.54 L597.54,719.53 L598.00,719.53 L598.47,719.52 L598.93,719.51 L599.39,719.50 L599.86,719.50 L600.32,719.49 L600.79,719.49 L601.25,719.48 L601.72,719.48 L602.18,719.47 L602.65,719.47 L603.11,719.46 L603.58,719.46 L604.04,719.45 L604.51,719.45 L604.97,719.44 L605.44,719.44 L605.90,719.44 L606.37,719.43 L606.83,719.43 L607.29,719.43 L607.76,719.42 L608.22,719.42 L608.69,719.42 L609.15,719.42 L609.62,719.41 L610.08,719.41 L610.55,719.41 L611.01,719.41 L611.48,719.41 L611.94,719.40 L612.41,719.40 L612.87,719.40 L613.34,719.40 L613.80,719.40 L614.27,719.40 L614.73,719.39 L615.19,719.39 L615.66,719.39 L616.12,719.39 L616.59,719.39 L617.05,719.39 L617.52,719.39 L617.98,719.39 L618.45,719.38 L618.91,719.38 L619.38,719.38 L619.84,719.38 L620.31,719.38 L620.77,719.38 L621.24,719.38 L621.70,719.38 L622.16,719.38 L622.63,719.38 L623.09,719.38 L623.56,719.38 L624.02,719.37 L624.49,719.37 L624.95,719.37 L625.42,719.37 L625.88,719.37 L626.35,719.37 L626.81,719.37 L627.28,719.37 L627.74,719.37 L628.21,719.37 L628.67,719.37 L629.14,719.37 L629.60,719.37 L630.06,719.37 L630.53,719.37 L630.99,719.37 L631.46,719.37 L631.92,719.37 L632.39,719.37 L632.85,719.37 L633.32,719.37 L633.78,719.37 L634.25,719.37 L634.71,719.37 L635.18,719.37 L635.64,719.37 L636.11,719.37 L636.57,719.37 L637.04,719.37 L637.50,719.37 L637.96,719.37 L638.43,719.37 L638.89,719.37 L639.36,719.36 L639.82,719.36 L640.29,719.36 L640.75,719.36 L641.22,719.36 L641.68,719.36 L642.15,719.36 L642.61,719.36 L643.08,719.36 L643.54,719.36 L644.01,719.36 L644.47,719.36 L644.94,719.36 L645.40,719.36" stroke="#000" stroke-width="5.5" stroke-dasharray="28.5 11.4" clip-path="url(#cr3)"/>
<path d="M413.05,936.3 L413.05,1105.0 L645.4,1105.0 L645.4,936.3" stroke="#000" stroke-width="1.5" fill="none"/>
<path d="M413.05,1105.0 V1102.80 M529.23,1105.0 V1102.80 M645.40,1105.0 V1102.80 M413.05,1105.00 H415.25 M413.05,1054.88 H415.25 M413.05,1004.75 H415.25 M413.05,954.63 H415.25 M645.4,1105.00 H643.20 M645.4,1036.84 H643.20 M645.4,968.68 H643.20" stroke="#000" stroke-width="1.3"/>
<path d="M413.05,1040.04 L413.51,1040.04 L413.98,1040.04 L414.44,1040.04 L414.91,1040.04 L415.37,1040.04 L415.84,1040.04 L416.30,1040.04 L416.77,1040.04 L417.23,1040.04 L417.70,1040.04 L418.16,1040.04 L418.63,1040.04 L419.09,1040.04 L419.56,1040.04 L420.02,1040.04 L420.49,1040.04 L420.95,1040.04 L421.41,1040.04 L421.88,1040.04 L422.34,1040.04 L422.81,1040.04 L423.27,1040.04 L423.74,1040.04 L424.20,1040.04 L424.67,1040.04 L425.13,1040.04 L425.60,1040.04 L426.06,1040.04 L426.53,1040.04 L426.99,1040.04 L427.46,1040.04 L427.92,1040.04 L428.39,1040.04 L428.85,1040.04 L429.31,1040.04 L429.78,1040.04 L430.24,1040.04 L430.71,1040.04 L431.17,1040.04 L431.64,1040.04 L432.10,1040.04 L432.57,1040.04 L433.03,1040.04 L433.50,1040.04 L433.96,1040.04 L434.43,1040.04 L434.89,1040.04 L435.36,1040.04 L435.82,1040.04 L436.29,1040.04 L436.75,1040.04 L437.21,1040.04 L437.68,1040.04 L438.14,1040.04 L438.61,1040.04 L439.07,1040.04 L439.54,1040.04 L440.00,1040.04 L440.47,1040.04 L440.93,1040.05 L441.40,1040.05 L441.86,1040.05 L442.33,1040.05 L442.79,1040.05 L443.26,1040.05 L443.72,1040.05 L444.18,1040.05 L444.65,1040.05 L445.11,1040.05 L445.58,1040.05 L446.04,1040.05 L446.51,1040.05 L446.97,1040.05 L447.44,1040.05 L447.90,1040.05 L448.37,1040.05 L448.83,1040.05 L449.30,1040.05 L449.76,1040.05 L450.23,1040.05 L450.69,1040.05 L451.16,1040.05 L451.62,1040.05 L452.08,1040.05 L452.55,1040.05 L453.01,1040.05 L453.48,1040.05 L453.94,1040.05 L454.41,1040.05 L454.87,1040.05 L455.34,1040.05 L455.80,1040.05 L456.27,1040.06 L456.73,1040.06 L457.20,1040.06 L457.66,1040.06 L458.13,1040.06 L458.59,1040.06 L459.06,1040.06 L459.52,1040.06 L459.98,1040.06 L460.45,1040.06 L460.91,1040.06 L461.38,1040.06 L461.84,1040.06 L462.31,1040.07 L462.77,1040.07 L463.24,1040.07 L463.70,1040.07 L464.17,1040.07 L464.63,1040.07 L465.10,1040.07 L465.56,1040.07 L466.03,1040.07 L466.49,1040.07 L466.96,1040.08 L467.42,1040.08 L467.88,1040.08 L468.35,1040.08 L468.81,1040.08 L469.28,1040.08 L469.74,1040.08 L470.21,1040.09 L470.67,1040.09 L471.14,1040.09 L471.60,1040.09 L472.07,1040.09 L472.53,1040.09 L473.00,1040.10 L473.46,1040.10 L473.93,1040.10 L474.39,1040.10 L474.86,1040.10 L475.32,1040.10 L475.78,1040.10 L476.25,1040.10 L476.71,1040.11 L477.18,1040.11 L477.64,1040.11 L478.11,1040.11 L478.57,1040.11 L479.04,1040.11 L479.50,1040.11 L479.97,1040.11 L480.43,1040.11 L480.90,1040.11 L481.36,1040.10 L481.83,1040.10 L482.29,1040.10 L482.75,1040.09 L483.22,1040.09 L483.68,1040.09 L484.15,1040.08 L484.61,1040.07 L485.08,1040.06 L485.54,1040.05 L486.01,1040.04 L486.47,1040.03 L486.94,1040.01 L487.40,1039.99 L487.87,1039.97 L488.33,1039.95 L488.80,1039.93 L489.26,1039.90 L489.73,1039.86 L490.19,1039.83 L490.65,1039.79 L491.12,1039.74 L491.58,1039.69 L492.05,1039.63 L492.51,1039.56 L492.98,1039.49 L493.44,1039.41 L493.91,1039.32 L494.37,1039.22 L494.84,1039.10 L495.30,1038.98 L495.77,1038.84 L496.23,1038.68 L496.70,1038.51 L497.16,1038.32 L497.63,1038.11 L498.09,1037.87 L498.55,1037.61 L499.02,1037.33 L499.48,1037.01 L499.95,1036.66 L500.41,1036.28 L500.88,1035.86 L501.34,1035.39 L501.81,1034.88 L502.27,1034.32 L502.74,1033.70 L503.20,1033.03 L503.67,1032.29 L504.13,1031.49 L504.60,1030.61 L505.06,1029.66 L505.53,1028.62 L505.99,1027.50 L506.45,1026.28 L506.92,1024.97 L507.38,1023.56 L507.85,1022.04 L508.31,1020.41 L508.78,1018.68 L509.24,1016.83 L509.71,1014.87 L510.17,1012.79 L510.64,1010.60 L511.10,1008.30 L511.57,1005.90 L512.03,1003.39 L512.50,1000.79 L512.96,998.11 L513.43,995.36 L513.89,992.55 L514.35,989.69 L514.82,986.81 L515.28,983.91 L515.75,981.02 L516.21,978.15 L516.68,975.34 L517.14,972.58 L517.61,969.92 L518.07,967.37 L518.54,964.95 L519.00,962.68 L519.47,960.58 L519.93,958.66 L520.40,956.95 L520.86,955.46 L521.33,954.19 L521.79,953.17 L522.25,952.40 L522.72,951.90 L523.18,951.66 L523.65,951.68 L524.11,951.99 L524.58,952.56 L525.04,953.40 L525.51,954.50 L525.97,955.87 L526.44,957.48 L526.90,959.32 L527.37,961.39 L527.83,963.67 L528.30,966.13 L528.76,968.76 L529.23,971.54 L529.69,974.44 L530.15,977.44 L530.62,980.52 L531.08,983.65 L531.55,986.81 L532.01,989.98 L532.48,993.14 L532.94,996.26 L533.41,999.33 L533.87,1002.33 L534.34,1005.25 L534.80,1008.07 L535.27,1010.78 L535.73,1013.39 L536.20,1015.87 L536.66,1018.22 L537.12,1020.45 L537.59,1022.55 L538.05,1024.53 L538.52,1026.37 L538.98,1028.10 L539.45,1029.71 L539.91,1031.20 L540.38,1032.58 L540.84,1033.85 L541.31,1035.03 L541.77,1036.11 L542.24,1037.10 L542.70,1038.01 L543.17,1038.85 L543.63,1039.61 L544.10,1040.31 L544.56,1040.94 L545.02,1041.52 L545.49,1042.04 L545.95,1042.52 L546.42,1042.95 L546.88,1043.34 L547.35,1043.70 L547.81,1044.02 L548.28,1044.31 L548.74,1044.58 L549.21,1044.82 L549.67,1045.03 L550.14,1045.22 L550.60,1045.40 L551.07,1045.56 L551.53,1045.70 L552.00,1045.83 L552.46,1045.94 L552.92,1046.04 L553.39,1046.14 L553.85,1046.22 L554.32,1046.29 L554.78,1046.36 L555.25,1046.42 L555.71,1046.47 L556.18,1046.52 L556.64,1046.56 L557.11,1046.60 L557.57,1046.64 L558.04,1046.67 L558.50,1046.69 L558.97,1046.72 L559.43,1046.74 L559.90,1046.76 L560.36,1046.77 L560.82,1046.79 L561.29,1046.80 L561.75,1046.81 L562.22,1046.82 L562.68,1046.83 L563.15,1046.83 L563.61,1046.84 L564.08,1046.84 L564.54,1046.85 L565.01,1046.85 L565.47,1046.85 L565.94,1046.86 L566.40,1046.86 L566.87,1046.86 L567.33,1046.86 L567.80,1046.86 L568.26,1046.86 L568.72,1046.86 L569.19,1046.86 L569.65,1046.86 L570.12,1046.86 L570.58,1046.86 L571.05,1046.86 L571.51,1046.86 L571.98,1046.86 L572.44,1046.86 L572.91,1046.85 L573.37,1046.85 L573.84,1046.85 L574.30,1046.85 L574.77,1046.85 L575.23,1046.85 L575.69,1046.85 L576.16,1046.85 L576.62,1046.84 L577.09,1046.84 L577.55,1046.84 L578.02,1046.84 L578.48,1046.84 L578.95,1046.84 L579.41,1046.84 L579.88,1046.84 L580.34,1046.83 L580.81,1046.83 L581.27,1046.83 L581.74,1046.83 L582.20,1046.83 L582.67,1046.83 L583.13,1046.83 L583.59,1046.83 L584.06,1046.83 L584.52,1046.83 L584.99,1046.82 L585.45,1046.82 L585.92,1046.82 L586.38,1046.82 L586.85,1046.82 L587.31,1046.82 L587.78,1046.82 L588.24,1046.82 L588.71,1046.82 L589.17,1046.82 L589.64,1046.82 L590.10,1046.82 L590.57,1046.82 L591.03,1046.82 L591.49,1046.82 L591.96,1046.81 L592.42,1046.81 L592.89,1046.81 L593.35,1046.81 L593.82,1046.81 L594.28,1046.81 L594.75,1046.81 L595.21,1046.81 L595.68,1046.81 L596.14,1046.81 L596.61,1046.81 L597.07,1046.81 L597.54,1046.81 L598.00,1046.81 L598.47,1046.81 L598.93,1046.81 L599.39,1046.81 L599.86,1046.81 L600.32,1046.81 L600.79,1046.81 L601.25,1046.81 L601.72,1046.81 L602.18,1046.81 L602.65,1046.81 L603.11,1046.81 L603.58,1046.81 L604.04,1046.81 L604.51,1046.81 L604.97,1046.81 L605.44,1046.81 L605.90,1046.81 L606.37,1046.81 L606.83,1046.81 L607.29,1046.81 L607.76,1046.81 L608.22,1046.81 L608.69,1046.81 L609.15,1046.81 L609.62,1046.81 L610.08,1046.81 L610.55,1046.81 L611.01,1046.81 L611.48,1046.81 L611.94,1046.81 L612.41,1046.81 L612.87,1046.81 L613.34,1046.81 L613.80,1046.81 L614.27,1046.81 L614.73,1046.81 L615.19,1046.81 L615.66,1046.81 L616.12,1046.81 L616.59,1046.80 L617.05,1046.80 L617.52,1046.80 L617.98,1046.80 L618.45,1046.80 L618.91,1046.80 L619.38,1046.80 L619.84,1046.80 L620.31,1046.80 L620.77,1046.80 L621.24,1046.80 L621.70,1046.80 L622.16,1046.80 L622.63,1046.80 L623.09,1046.80 L623.56,1046.80 L624.02,1046.80 L624.49,1046.80 L624.95,1046.80 L625.42,1046.80 L625.88,1046.80 L626.35,1046.80 L626.81,1046.80 L627.28,1046.80 L627.74,1046.80 L628.21,1046.80 L628.67,1046.80 L629.14,1046.80 L629.60,1046.80 L630.06,1046.80 L630.53,1046.80 L630.99,1046.80 L631.46,1046.80 L631.92,1046.80 L632.39,1046.80 L632.85,1046.80 L633.32,1046.80 L633.78,1046.80 L634.25,1046.80 L634.71,1046.80 L635.18,1046.80 L635.64,1046.80 L636.11,1046.80 L636.57,1046.80 L637.04,1046.80 L637.50,1046.80 L637.96,1046.80 L638.43,1046.80 L638.89,1046.80 L639.36,1046.80 L639.82,1046.80 L640.29,1046.80 L640.75,1046.80 L641.22,1046.80 L641.68,1046.80 L642.15,1046.80 L642.61,1046.80 L643.08,1046.80 L643.54,1046.80 L644.01,1046.80 L644.47,1046.80 L644.94,1046.80 L645.40,1046.80" stroke="#000" stroke-width="5.5" clip-path="url(#cr4)"/>
<path d="M413.05,1087.96 L413.51,1087.96 L413.98,1087.96 L414.44,1087.96 L414.91,1087.96 L415.37,1087.96 L415.84,1087.96 L416.30,1087.96 L416.77,1087.96 L417.23,1087.96 L417.70,1087.96 L418.16,1087.96 L418.63,1087.96 L419.09,1087.96 L419.56,1087.96 L420.02,1087.96 L420.49,1087.96 L420.95,1087.96 L421.41,1087.96 L421.88,1087.96 L422.34,1087.96 L422.81,1087.96 L423.27,1087.96 L423.74,1087.95 L424.20,1087.95 L424.67,1087.95 L425.13,1087.95 L425.60,1087.95 L426.06,1087.95 L426.53,1087.95 L426.99,1087.95 L427.46,1087.95 L427.92,1087.95 L428.39,1087.95 L428.85,1087.95 L429.31,1087.95 L429.78,1087.95 L430.24,1087.95 L430.71,1087.95 L431.17,1087.95 L431.64,1087.95 L432.10,1087.95 L432.57,1087.95 L433.03,1087.95 L433.50,1087.95 L433.96,1087.95 L434.43,1087.95 L434.89,1087.95 L435.36,1087.95 L435.82,1087.94 L436.29,1087.94 L436.75,1087.94 L437.21,1087.94 L437.68,1087.94 L438.14,1087.94 L438.61,1087.94 L439.07,1087.94 L439.54,1087.94 L440.00,1087.94 L440.47,1087.94 L440.93,1087.94 L441.40,1087.93 L441.86,1087.93 L442.33,1087.93 L442.79,1087.93 L443.26,1087.93 L443.72,1087.93 L444.18,1087.93 L444.65,1087.92 L445.11,1087.92 L445.58,1087.92 L446.04,1087.92 L446.51,1087.92 L446.97,1087.92 L447.44,1087.91 L447.90,1087.91 L448.37,1087.91 L448.83,1087.91 L449.30,1087.90 L449.76,1087.90 L450.23,1087.90 L450.69,1087.90 L451.16,1087.89 L451.62,1087.89 L452.08,1087.89 L452.55,1087.88 L453.01,1087.88 L453.48,1087.88 L453.94,1087.87 L454.41,1087.87 L454.87,1087.86 L455.34,1087.86 L455.80,1087.86 L456.27,1087.85 L456.73,1087.85 L457.20,1087.84 L457.66,1087.84 L458.13,1087.83 L458.59,1087.82 L459.06,1087.82 L459.52,1087.81 L459.98,1087.80 L460.45,1087.80 L460.91,1087.79 L461.38,1087.78 L461.84,1087.77 L462.31,1087.76 L462.77,1087.75 L463.24,1087.75 L463.70,1087.74 L464.17,1087.72 L464.63,1087.71 L465.10,1087.70 L465.56,1087.69 L466.03,1087.68 L466.49,1087.67 L466.96,1087.65 L467.42,1087.64 L467.88,1087.62 L468.35,1087.61 L468.81,1087.59 L469.28,1087.57 L469.74,1087.56 L470.21,1087.54 L470.67,1087.52 L471.14,1087.50" stroke="#000" stroke-width="5.5" stroke-dasharray="28.5 11.4" clip-path="url(#cr4)"/>
<path d="M471.14,1087.50 L471.60,1087.48 L472.07,1087.45 L472.53,1087.43 L473.00,1087.40 L473.46,1087.38 L473.93,1087.35 L474.39,1087.32 L474.86,1087.29 L475.32,1087.26 L475.78,1087.23 L476.25,1087.20 L476.71,1087.16 L477.18,1087.13 L477.64,1087.09 L478.11,1087.05 L478.57,1087.00 L479.04,1086.96 L479.50,1086.91 L479.97,1086.87 L480.43,1086.82 L480.90,1086.76 L481.36,1086.71 L481.83,1086.65 L482.29,1086.59 L482.75,1086.53 L483.22,1086.46 L483.68,1086.39 L484.15,1086.32 L484.61,1086.25 L485.08,1086.17 L485.54,1086.08 L486.01,1086.00 L486.47,1085.91 L486.94,1085.82 L487.40,1085.72 L487.87,1085.61 L488.33,1085.51 L488.80,1085.40 L489.26,1085.28 L489.73,1085.16 L490.19,1085.03 L490.65,1084.90 L491.12,1084.76 L491.58,1084.61 L492.05,1084.46 L492.51,1084.30 L492.98,1084.14 L493.44,1083.96 L493.91,1083.78 L494.37,1083.60 L494.84,1083.40 L495.30,1083.19 L495.77,1082.98 L496.23,1082.76 L496.70,1082.53 L497.16,1082.28 L497.63,1082.03 L498.09,1081.77 L498.55,1081.49 L499.02,1081.21 L499.48,1080.91 L499.95,1080.60 L500.41,1080.28 L500.88,1079.94 L501.34,1079.59 L501.81,1079.23 L502.27,1078.85 L502.74,1078.45 L503.20,1078.04 L503.67,1077.62 L504.13,1077.18 L504.60,1076.72 L505.06,1076.24 L505.53,1075.74 L505.99,1075.23 L506.45,1074.69 L506.92,1074.14 L507.38,1073.56 L507.85,1072.97 L508.31,1072.35 L508.78,1071.71 L509.24,1071.05 L509.71,1070.36 L510.17,1069.65 L510.64,1068.92 L511.10,1068.16 L511.57,1067.38 L512.03,1066.58 L512.50,1065.74 L512.96,1064.89 L513.43,1064.00 L513.89,1063.09 L514.35,1062.15 L514.82,1061.19 L515.28,1060.20 L515.75,1059.18 L516.21,1058.13 L516.68,1057.06 L517.14,1055.96 L517.61,1054.83 L518.07,1053.68 L518.54,1052.50 L519.00,1051.30 L519.47,1050.07 L519.93,1048.81 L520.40,1047.53 L520.86,1046.22 L521.33,1044.90 L521.79,1043.55 L522.25,1042.17 L522.72,1040.78 L523.18,1039.37 L523.65,1037.94 L524.11,1036.49 L524.58,1035.03 L525.04,1033.55 L525.51,1032.06 L525.97,1030.55 L526.44,1029.03 L526.90,1027.51 L527.37,1025.98 L527.83,1024.44 L528.30,1022.89 L528.76,1021.35 L529.23,1019.80 L529.69,1018.25 L530.15,1016.70 L530.62,1015.16 L531.08,1013.62 L531.55,1012.08 L532.01,1010.56 L532.48,1009.04 L532.94,1007.54 L533.41,1006.05 L533.87,1004.57 L534.34,1003.10 L534.80,1001.65 L535.27,1000.22 L535.73,998.81 L536.20,997.42 L536.66,996.05 L537.12,994.70 L537.59,993.37 L538.05,992.07 L538.52,990.79 L538.98,989.53 L539.45,988.30 L539.91,987.09 L540.38,985.91 L540.84,984.76 L541.31,983.63 L541.77,982.53 L542.24,981.46 L542.70,980.42 L543.17,979.40 L543.63,978.41 L544.10,977.44 L544.56,976.50 L545.02,975.59 L545.49,974.71 L545.95,973.85 L546.42,973.02 L546.88,972.21 L547.35,971.43 L547.81,970.67 L548.28,969.94 L548.74,969.23 L549.21,968.55 L549.67,967.89 L550.14,967.25 L550.60,966.63 L551.07,966.03 L551.53,965.46 L552.00,964.90 L552.46,964.37 L552.92,963.85 L553.39,963.36 L553.85,962.88 L554.32,962.42 L554.78,961.98 L555.25,961.55 L555.71,961.14 L556.18,960.75 L556.64,960.37 L557.11,960.00 L557.57,959.65 L558.04,959.32 L558.50,958.99 L558.97,958.68 L559.43,958.39 L559.90,958.10 L560.36,957.83 L560.82,957.56 L561.29,957.31 L561.75,957.07 L562.22,956.84 L562.68,956.61 L563.15,956.40 L563.61,956.20 L564.08,956.00 L564.54,955.81 L565.01,955.63 L565.47,955.46 L565.94,955.29 L566.40,955.13 L566.87,954.98 L567.33,954.84 L567.80,954.70 L568.26,954.57 L568.72,954.44 L569.19,954.32 L569.65,954.20 L570.12,954.09 L570.58,953.98 L571.05,953.88 L571.51,953.78 L571.98,953.69 L572.44,953.60 L572.91,953.51 L573.37,953.43 L573.84,953.35 L574.30,953.27 L574.77,953.20 L575.23,953.13 L575.69,953.07 L576.16,953.00 L576.62,952.94 L577.09,952.89 L577.55,952.83 L578.02,952.78 L578.48,952.73 L578.95,952.68 L579.41,952.63 L579.88,952.59 L580.34,952.55 L580.81,952.51 L581.27,952.47 L581.74,952.43 L582.20,952.40 L582.67,952.36 L583.13,952.33 L583.59,952.30 L584.06,952.27 L584.52,952.24 L584.99,952.22 L585.45,952.19 L585.92,952.17 L586.38,952.14 L586.85,952.12 L587.31,952.10 L587.78,952.08 L588.24,952.06 L588.71,952.04 L589.17,952.02 L589.64,952.00 L590.10,951.99 L590.57,951.97 L591.03,951.96 L591.49,951.94 L591.96,951.93 L592.42,951.92 L592.89,951.90 L593.35,951.89 L593.82,951.88 L594.28,951.87 L594.75,951.86 L595.21,951.85 L595.68,951.84 L596.14,951.83 L596.61,951.82 L597.07,951.81 L597.54,951.81 L598.00,951.80 L598.47,951.79 L598.93,951.78 L599.39,951.78 L599.86,951.77 L600.32,951.76 L600.79,951.76 L601.25,951.75 L601.72,951.75 L602.18,951.74 L602.65,951.74 L603.11,951.73 L603.58,951.73 L604.04,951.73 L604.51,951.72 L604.97,951.72 L605.44,951.71 L605.90,951.71 L606.37,951.71 L606.83,951.70 L607.29,951.70 L607.76,951.70 L608.22,951.69 L608.69,951.69 L609.15,951.69 L609.62,951.69 L610.08,951.68 L610.55,951.68 L611.01,951.68 L611.48,951.68 L611.94,951.68 L612.41,951.67 L612.87,951.67 L613.34,951.67 L613.80,951.67 L614.27,951.67 L614.73,951.67 L615.19,951.67 L615.66,951.66 L616.12,951.66 L616.59,951.66 L617.05,951.66 L617.52,951.66 L617.98,951.66 L618.45,951.66 L618.91,951.66 L619.38,951.65 L619.84,951.65 L620.31,951.65 L620.77,951.65 L621.24,951.65 L621.70,951.65 L622.16,951.65 L622.63,951.65 L623.09,951.65 L623.56,951.65 L624.02,951.65 L624.49,951.65 L624.95,951.65 L625.42,951.65 L625.88,951.65 L626.35,951.64 L626.81,951.64 L627.28,951.64 L627.74,951.64 L628.21,951.64 L628.67,951.64 L629.14,951.64 L629.60,951.64 L630.06,951.64 L630.53,951.64 L630.99,951.64 L631.46,951.64 L631.92,951.64 L632.39,951.64 L632.85,951.64 L633.32,951.64 L633.78,951.64 L634.25,951.64 L634.71,951.64 L635.18,951.64 L635.64,951.64 L636.11,951.64 L636.57,951.64 L637.04,951.64 L637.50,951.64 L637.96,951.64 L638.43,951.64 L638.89,951.64 L639.36,951.64 L639.82,951.64 L640.29,951.64 L640.75,951.64 L641.22,951.64 L641.68,951.64 L642.15,951.64 L642.61,951.64 L643.08,951.64 L643.54,951.64 L644.01,951.64 L644.47,951.64 L644.94,951.64 L645.40,951.64" stroke="#000" stroke-width="5.5" stroke-dasharray="28.5 11.4" clip-path="url(#cr4)"/>
<path d="M103.00,1201.20 L166.90,1201.20" stroke="#000" stroke-width="5.5"/>
<path d="M103.00,1231.90 L166.90,1231.90" stroke="#0000ff" stroke-width="5.5" stroke-dasharray="28.5 11.4"/>
<path d="M103.00,1262.60 L166.90,1262.60" stroke="#ff00ff" stroke-width="5.5" stroke-dasharray="28.5 11.4"/>
<path d="M103.00,1293.30 L166.90,1293.30" stroke="#ff0000" stroke-width="5.5" stroke-dasharray="28.5 11.4"/>
<path d="M435.30,1233.40 L499.70,1233.40" stroke="#000" stroke-width="5.5"/>
<path d="M435.30,1264.60 L499.70,1264.60" stroke="#000" stroke-width="5.5" stroke-dasharray="28.5 11.4"/>
</g>
<g font-family="Liberation Sans, sans-serif" font-size="21.5" fill="#000">
<text x="70.00" y="204.60" text-anchor="middle">0</text>
<text x="147.57" y="204.60" text-anchor="middle">2</text>
<text x="225.13" y="204.60" text-anchor="middle">4</text>
<text x="302.70" y="204.60" text-anchor="middle">6</text>
<text x="63.70" y="186.50" text-anchor="end">0</text>
<text x="63.70" y="101.98" text-anchor="end">1</text>
<text x="63.70" y="17.45" text-anchor="end">2</text>
<text x="309.00" y="186.50">0</text>
<text x="309.00" y="17.45">1</text>
<text x="88.00" y="31.50" font-size="25" font-weight="bold">A</text>
<text x="19.50" y="180.43" font-size="22.5" transform="rotate(-90 19.50 180.43)" letter-spacing="0.375">Int. time <tspan font-family="Liberation Serif, serif" font-size="25">τ</tspan> = 5 ms</text>
<text x="44.40" y="138.30" font-size="22.5" transform="rotate(-90 44.40 138.30)" letter-spacing="0.298">RSI (bits)</text>
<text x="328.40" y="112.27" font-size="22.5" transform="rotate(-90 328.40 112.27)" letter-spacing="0.152">P(r)</text>
<text x="70.00" y="433.70" text-anchor="middle">0</text>
<text x="186.35" y="433.70" text-anchor="middle">5</text>
<text x="302.70" y="433.70" text-anchor="middle">10</text>
<text x="63.70" y="415.60" text-anchor="end">0</text>
<text x="63.70" y="331.17" text-anchor="end">1</text>
<text x="63.70" y="246.75" text-anchor="end">2</text>
<text x="309.00" y="415.60">0</text>
<text x="309.00" y="246.75">1</text>
<text x="88.45" y="259.30" font-size="25" font-weight="bold">B</text>
<text x="19.50" y="416.43" font-size="22.5" transform="rotate(-90 19.50 416.43)" letter-spacing="0.397">Int. time <tspan font-family="Liberation Serif, serif" font-size="25">τ</tspan> = 50 ms</text>
<text x="44.40" y="368.40" font-size="22.5" transform="rotate(-90 44.40 368.40)" letter-spacing="0.387">RSI (bits)</text>
<text x="328.40" y="341.47" font-size="22.5" transform="rotate(-90 328.40 341.47)" letter-spacing="0.152">P(r)</text>
<text x="70.00" y="666.20" text-anchor="middle">0</text>
<text x="186.35" y="666.20" text-anchor="middle">10</text>
<text x="302.70" y="666.20" text-anchor="middle">20</text>
<text x="63.70" y="648.10" text-anchor="end">0</text>
<text x="63.70" y="563.40" text-anchor="end">1</text>
<text x="63.70" y="478.70" text-anchor="end">2</text>
<text x="309.00" y="648.10">0</text>
<text x="309.00" y="478.70">0.4</text>
<text x="88.10" y="489.20" font-size="25" font-weight="bold">C</text>
<text x="19.50" y="656.53" font-size="22.5" transform="rotate(-90 19.50 656.53)" letter-spacing="0.392">Int. time <tspan font-family="Liberation Serif, serif" font-size="25">τ</tspan> = 200 ms</text>
<text x="44.40" y="600.20" font-size="22.5" transform="rotate(-90 44.40 600.20)" letter-spacing="0.309">RSI (bits)</text>
<text x="328.40" y="573.70" font-size="22.5" transform="rotate(-90 328.40 573.70)" letter-spacing="0.152">P(r)</text>
<text x="70.00" y="898.50" text-anchor="middle">0</text>
<text x="147.57" y="898.50" text-anchor="middle">10</text>
<text x="225.13" y="898.50" text-anchor="middle">20</text>
<text x="302.70" y="898.50" text-anchor="middle">30</text>
<text x="63.70" y="880.40" text-anchor="end">0</text>
<text x="63.70" y="795.90" text-anchor="end">1</text>
<text x="63.70" y="711.40" text-anchor="end">2</text>
<text x="309.00" y="880.40">0</text>
<text x="309.00" y="711.40">0.4</text>
<text x="88.05" y="723.00" font-size="25" font-weight="bold">D</text>
<text x="19.50" y="886.53" font-size="22.5" transform="rotate(-90 19.50 886.53)" letter-spacing="0.355">Int. time <tspan font-family="Liberation Serif, serif" font-size="25">τ</tspan> = 400 ms</text>
<text x="44.40" y="832.70" font-size="22.5" transform="rotate(-90 44.40 832.70)" letter-spacing="0.309">RSI (bits)</text>
<text x="328.40" y="806.20" font-size="22.5" transform="rotate(-90 328.40 806.20)" letter-spacing="0.152">P(r)</text>
<text x="70.00" y="1130.50" text-anchor="middle">0</text>
<text x="136.49" y="1130.50" text-anchor="middle">20</text>
<text x="202.97" y="1130.50" text-anchor="middle">40</text>
<text x="269.46" y="1130.50" text-anchor="middle">60</text>
<text x="63.70" y="1112.40" text-anchor="end">0</text>
<text x="63.70" y="1070.23" text-anchor="end">1</text>
<text x="63.70" y="1028.05" text-anchor="end">2</text>
<text x="63.70" y="985.87" text-anchor="end">3</text>
<text x="63.70" y="943.70" text-anchor="end">4</text>
<text x="309.00" y="1112.40">0</text>
<text x="309.00" y="943.70">0.2</text>
<text x="88.05" y="947.70" font-size="25" font-weight="bold">E</text>
<text x="19.50" y="1122.33" font-size="22.5" transform="rotate(-90 19.50 1122.33)" letter-spacing="0.386">Int. time <tspan font-family="Liberation Serif, serif" font-size="25">τ</tspan> = 1000 ms</text>
<text x="44.40" y="1064.90" font-size="22.5" transform="rotate(-90 44.40 1064.90)" letter-spacing="0.320">RSI (bits)</text>
<text x="328.40" y="1038.35" font-size="22.5" transform="rotate(-90 328.40 1038.35)" letter-spacing="0.152">P(r)</text>
<text x="427.99" y="204.60" text-anchor="end">−0.5</text>
<text x="529.23" y="204.60" text-anchor="middle">0</text>
<text x="645.40" y="204.60" text-anchor="middle">0.5</text>
<text x="406.75" y="186.50" text-anchor="end">0</text>
<text x="406.75" y="32.82" text-anchor="end">0.1</text>
<text x="651.70" y="186.50">0</text>
<text x="651.70" y="118.20">0.1</text>
<text x="651.70" y="49.89">0.2</text>
<text x="427.60" y="31.50" font-size="25" font-weight="bold">F</text>
<text x="382.00" y="138.47" font-size="22.5" transform="rotate(-90 382.00 138.47)" letter-spacing="0.278">SSI (bits)</text>
<text x="700.00" y="199.30" font-size="22.5" transform="rotate(-90 700.00 199.30)" letter-spacing="0.389">Mean resp. (spk)</text>
<text x="427.99" y="433.70" text-anchor="end">−0.5</text>
<text x="529.23" y="433.70" text-anchor="middle">0</text>
<text x="645.40" y="433.70" text-anchor="middle">0.5</text>
<text x="406.75" y="415.60" text-anchor="end">0</text>
<text x="406.75" y="356.20" text-anchor="end">0.2</text>
<text x="406.75" y="296.80" text-anchor="end">0.4</text>
<text x="651.70" y="415.60">0</text>
<text x="651.70" y="347.38">1</text>
<text x="651.70" y="279.15">2</text>
<text x="427.90" y="259.50" font-size="25" font-weight="bold">G</text>
<text x="370.00" y="367.57" font-size="22.5" transform="rotate(-90 370.00 367.57)" letter-spacing="0.356">SSI (bits)</text>
<text x="700.00" y="428.60" font-size="22.5" transform="rotate(-90 700.00 428.60)" letter-spacing="0.396">Mean resp. (spk)</text>
<text x="427.99" y="666.20" text-anchor="end">−0.5</text>
<text x="529.23" y="666.20" text-anchor="middle">0</text>
<text x="645.40" y="666.20" text-anchor="middle">0.5</text>
<text x="406.75" y="648.10" text-anchor="end">0</text>
<text x="406.75" y="491.36" text-anchor="end">1</text>
<text x="651.70" y="648.10">0</text>
<text x="651.70" y="613.88">2</text>
<text x="651.70" y="579.65">4</text>
<text x="651.70" y="545.43">6</text>
<text x="651.70" y="511.21">8</text>
<text x="427.65" y="480.30" font-size="25" font-weight="bold">H</text>
<text x="381.50" y="599.77" font-size="22.5" transform="rotate(-90 381.50 599.77)" letter-spacing="0.278">SSI (bits)</text>
<text x="700.00" y="660.90" font-size="22.5" transform="rotate(-90 700.00 660.90)" letter-spacing="0.369">Mean resp. (spk)</text>
<text x="427.99" y="898.50" text-anchor="end">−0.5</text>
<text x="529.23" y="898.50" text-anchor="middle">0</text>
<text x="645.40" y="898.50" text-anchor="middle">0.5</text>
<text x="406.75" y="880.40" text-anchor="end">0</text>
<text x="406.75" y="766.80" text-anchor="end">1</text>
<text x="651.70" y="880.40">0</text>
<text x="651.70" y="837.72">5</text>
<text x="651.70" y="795.05">10</text>
<text x="651.70" y="752.37">15</text>
<text x="428.10" y="723.00" font-size="25" font-weight="bold">I</text>
<text x="381.50" y="831.77" font-size="22.5" transform="rotate(-90 381.50 831.77)" letter-spacing="0.278">SSI (bits)</text>
<text x="700.00" y="893.40" font-size="22.5" transform="rotate(-90 700.00 893.40)" letter-spacing="0.369">Mean resp. (spk)</text>
<text x="427.99" y="1130.50" text-anchor="end">−0.5</text>
<text x="529.23" y="1130.50" text-anchor="middle">0</text>
<text x="645.40" y="1130.50" text-anchor="middle">0.5</text>
<text x="406.75" y="1112.40" text-anchor="end">0</text>
<text x="406.75" y="1062.28" text-anchor="end">1</text>
<text x="406.75" y="1012.15" text-anchor="end">2</text>
<text x="406.75" y="962.03" text-anchor="end">3</text>
<text x="651.70" y="1112.40">0</text>
<text x="651.70" y="1044.24">20</text>
<text x="651.70" y="976.08">40</text>
<text x="427.80" y="947.70" font-size="25" font-weight="bold">J</text>
<text x="381.50" y="1064.77" font-size="22.5" transform="rotate(-90 381.50 1064.77)" letter-spacing="0.278">SSI (bits)</text>
<text x="700.00" y="1125.40" font-size="22.5" transform="rotate(-90 700.00 1125.40)" letter-spacing="0.322">Mean resp. (spk)</text>
<text x="106.50" y="1156.80" font-size="22.5" letter-spacing="0.383">Response (spk)</text>
<text x="488.43" y="1157.00" font-size="22.5" letter-spacing="0.394">Stimulus</text>
<text x="174.00" y="1208.70" font-size="22.5" letter-spacing="0.957">RSI</text>
<text x="174.00" y="1239.40" font-size="22.5" letter-spacing="0.578">P(rls=–0.5)</text>
<text x="174.00" y="1270.10" font-size="22.5" letter-spacing="0.579">P(rls=0)</text>
<text x="174.00" y="1300.80" font-size="22.5" letter-spacing="0.388">P(rls=0.5)</text>
<text x="506.83" y="1241.60" font-size="22.5" letter-spacing="0.466">SSI</text>
<text x="507.34" y="1272.60" font-size="22.5" letter-spacing="0.367">Tuning curve</text>
</g>
</svg>
</body></html>
